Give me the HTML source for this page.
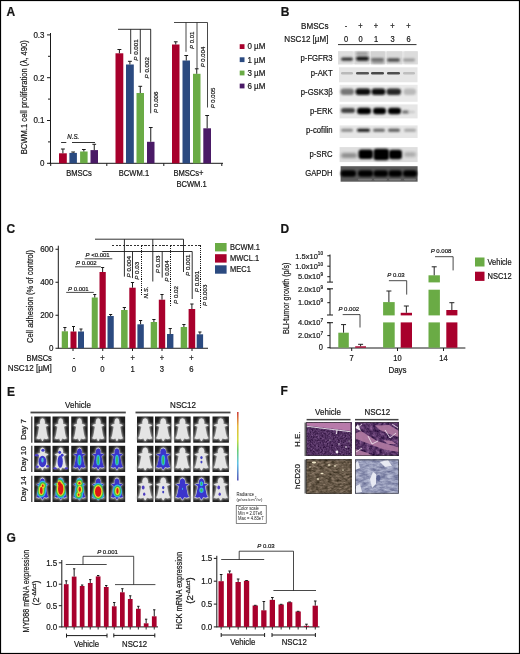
<!DOCTYPE html>
<html><head><meta charset="utf-8"><style>html,body{margin:0;padding:0;background:#fff;}svg{display:block;will-change:transform;font-family:"Liberation Sans",sans-serif;}text{fill:#161616;stroke:#161616;stroke-width:0.2px;}</style></head>
<body><svg width="520" height="654" viewBox="0 0 520 654" font-family="Liberation Sans, sans-serif"><defs><filter id="nHEV" filterUnits="userSpaceOnUse" x="306.2" y="422.4" width="45" height="33.5" color-interpolation-filters="sRGB"><feTurbulence type="fractalNoise" baseFrequency="0.6" numOctaves="3" seed="4"/><feColorMatrix type="matrix" values="0.45 0 0 0 0.095  0.4 0 0 0 -0.010  0.45 0 0 0 0.155  0 0 0 0 1"/></filter><filter id="nHEN" filterUnits="userSpaceOnUse" x="355.1" y="422.4" width="43.9" height="33.5" color-interpolation-filters="sRGB"><feTurbulence type="fractalNoise" baseFrequency="0.3" numOctaves="3" seed="9"/><feColorMatrix type="matrix" values="0.6 0 0 0 0.040  0.5 0 0 0 -0.050  0.55 0 0 0 0.125  0 0 0 0 1"/></filter><filter id="nCDV" filterUnits="userSpaceOnUse" x="306.2" y="459.6" width="45" height="33.9" color-interpolation-filters="sRGB"><feTurbulence type="fractalNoise" baseFrequency="0.25 0.5" numOctaves="3" seed="5"/><feColorMatrix type="matrix" values="0.55 0 0 0 0.125  0.5 0 0 0 0.095  0.48 0 0 0 0.040  0 0 0 0 1"/></filter><filter id="nCDN" filterUnits="userSpaceOnUse" x="355.1" y="459.6" width="43.9" height="33.9" color-interpolation-filters="sRGB"><feTurbulence type="fractalNoise" baseFrequency="0.15 0.35" numOctaves="3" seed="11"/><feColorMatrix type="matrix" values="0.55 0 0 0 0.305  0.55 0 0 0 0.325  0.45 0 0 0 0.495  0 0 0 0 1"/></filter>
<filter id="bl08" x="-50%" y="-50%" width="200%" height="200%"><feGaussianBlur stdDeviation="0.8"/></filter>
<filter id="blb" x="-50%" y="-80%" width="200%" height="260%"><feGaussianBlur stdDeviation="1.3 1.0"/></filter>
<filter id="bl05" x="-50%" y="-50%" width="200%" height="200%"><feGaussianBlur stdDeviation="0.5"/></filter>
<filter id="bl15" x="-50%" y="-50%" width="200%" height="200%"><feGaussianBlur stdDeviation="1.5"/></filter>
<filter id="bl2" x="-20%" y="-20%" width="140%" height="140%"><feGaussianBlur stdDeviation="0.6"/></filter>
<radialGradient id="hr"><stop offset="0" stop-color="#e00000"/><stop offset="0.45" stop-color="#e02000"/><stop offset="0.62" stop-color="#e8d000"/><stop offset="0.78" stop-color="#40c040"/><stop offset="0.9" stop-color="#30b0e0"/><stop offset="1" stop-color="#3a3acc"/></radialGradient>
<radialGradient id="hg"><stop offset="0" stop-color="#a0d040"/><stop offset="0.4" stop-color="#40c080"/><stop offset="0.75" stop-color="#30a0e0"/><stop offset="1" stop-color="#3434c8"/></radialGradient>
<linearGradient id="cbar" x1="0" y1="0" x2="0" y2="1"><stop offset="0" stop-color="#c00000"/><stop offset="0.2" stop-color="#e0a000"/><stop offset="0.4" stop-color="#c0d000"/><stop offset="0.55" stop-color="#40c040"/><stop offset="0.75" stop-color="#30b0e0"/><stop offset="1" stop-color="#2020a0"/></linearGradient>
<filter id="tex1"><feTurbulence type="fractalNoise" baseFrequency="0.9" numOctaves="2" seed="3"/><feColorMatrix values="0 0 0 0 0.29  0 0 0 0 0.18  0 0 0 0 0.38  0 0 0 1.6 -0.5"/><feComposite in2="SourceGraphic" operator="in"/></filter>
<pattern id="heV" width="45" height="34" patternUnits="userSpaceOnUse" x="306.2" y="422.4"><rect width="45" height="34" fill="#4e3266"/><rect width="45" height="6" fill="#b07aa0"/><path d="M0,6 L45,3" stroke="#e8e0f0" stroke-width="1"/></pattern>
<pattern id="heN" width="44" height="34" patternUnits="userSpaceOnUse" x="355.1" y="422.4"><rect width="44" height="34" fill="#5a3a70"/><path d="M0,4 L20,14 L44,8 L44,16 L22,24 L0,14Z" fill="#b8809e"/><path d="M0,24 L30,34 L0,34Z" fill="#b0789a"/></pattern>
<pattern id="cdV" width="45" height="34" patternUnits="userSpaceOnUse" x="306.2" y="459.6"><rect width="45" height="34" fill="#7a6a52"/></pattern>
<pattern id="cdN" width="44" height="34" patternUnits="userSpaceOnUse" x="355.1" y="459.6"><rect width="44" height="34" fill="#a8aecc"/></pattern>
</defs><rect width="520" height="654" fill="#fff"/><text x="6.5" y="15.9" font-size="12" text-anchor="start" font-weight="bold" font-style="normal" fill="#000">A</text>
<line x1="50.5" y1="33" x2="50.5" y2="163.8" stroke="#1a1a1a" stroke-width="1.0"/>
<line x1="49.5" y1="163.3" x2="223" y2="163.3" stroke="#1a1a1a" stroke-width="1.0"/>
<line x1="47" y1="163.3" x2="50.5" y2="163.3" stroke="#1a1a1a" stroke-width="1.0"/>
<text x="44.5" y="166.20000000000002" font-size="8.7" text-anchor="end" font-weight="normal" font-style="normal" fill="#333" transform="translate(44.5 0) scale(0.92 1) translate(-44.5 0)">0</text>
<line x1="47" y1="120.5" x2="50.5" y2="120.5" stroke="#1a1a1a" stroke-width="1.0"/>
<text x="44.5" y="123.4" font-size="8.7" text-anchor="end" font-weight="normal" font-style="normal" fill="#333" transform="translate(44.5 0) scale(0.92 1) translate(-44.5 0)">0.1</text>
<line x1="47" y1="77.7" x2="50.5" y2="77.7" stroke="#1a1a1a" stroke-width="1.0"/>
<text x="44.5" y="80.60000000000001" font-size="8.7" text-anchor="end" font-weight="normal" font-style="normal" fill="#333" transform="translate(44.5 0) scale(0.92 1) translate(-44.5 0)">0.2</text>
<line x1="47" y1="34.900000000000006" x2="50.5" y2="34.900000000000006" stroke="#1a1a1a" stroke-width="1.0"/>
<text x="44.5" y="37.800000000000004" font-size="8.7" text-anchor="end" font-weight="normal" font-style="normal" fill="#333" transform="translate(44.5 0) scale(0.92 1) translate(-44.5 0)">0.3</text>
<line x1="48" y1="141.9" x2="50.5" y2="141.9" stroke="#1a1a1a" stroke-width="1.0"/>
<line x1="48" y1="99.10000000000001" x2="50.5" y2="99.10000000000001" stroke="#1a1a1a" stroke-width="1.0"/>
<line x1="48" y1="56.30000000000001" x2="50.5" y2="56.30000000000001" stroke="#1a1a1a" stroke-width="1.0"/>
<line x1="50.7" y1="163.3" x2="50.7" y2="166" stroke="#1a1a1a" stroke-width="1.0"/>
<line x1="106.8" y1="163.3" x2="106.8" y2="166" stroke="#1a1a1a" stroke-width="1.0"/>
<line x1="163.8" y1="163.3" x2="163.8" y2="166" stroke="#1a1a1a" stroke-width="1.0"/>
<line x1="221.8" y1="163.3" x2="221.8" y2="166" stroke="#1a1a1a" stroke-width="1.0"/>
<text x="27" y="97.3" font-size="9" text-anchor="middle" font-weight="normal" font-style="normal" fill="#222" transform="rotate(-90 27 97.3)" textLength="114" lengthAdjust="spacingAndGlyphs">BCWM.1 cell proliferation (λ, 490)</text>
<rect x="59" y="153.3" width="7.799999999999997" height="10.0" fill="#a8002c"/>
<line x1="62.9" y1="149" x2="62.9" y2="153.3" stroke="#1a1a1a" stroke-width="1.0"/>
<line x1="60.95" y1="149" x2="64.85" y2="149" stroke="#1a1a1a" stroke-width="1.0"/>
<rect x="69.4" y="152.9" width="7.5" height="10.400000000000006" fill="#2b4a80"/>
<line x1="73.15" y1="152" x2="73.15" y2="152.9" stroke="#1a1a1a" stroke-width="1.0"/>
<line x1="71.275" y1="152" x2="75.025" y2="152" stroke="#1a1a1a" stroke-width="1.0"/>
<rect x="80.1" y="151.5" width="7.5" height="11.800000000000011" fill="#6aab45"/>
<line x1="83.85" y1="149.5" x2="83.85" y2="151.5" stroke="#1a1a1a" stroke-width="1.0"/>
<line x1="81.975" y1="149.5" x2="85.725" y2="149.5" stroke="#1a1a1a" stroke-width="1.0"/>
<rect x="90.5" y="150.1" width="7.5" height="13.200000000000017" fill="#4a1a66"/>
<line x1="94.25" y1="144.3" x2="94.25" y2="150.1" stroke="#1a1a1a" stroke-width="1.0"/>
<line x1="92.375" y1="144.3" x2="96.125" y2="144.3" stroke="#1a1a1a" stroke-width="1.0"/>
<rect x="115.5" y="53.3" width="7.799999999999997" height="110.00000000000001" fill="#a8002c"/>
<line x1="119.4" y1="49.5" x2="119.4" y2="53.3" stroke="#1a1a1a" stroke-width="1.0"/>
<line x1="117.45" y1="49.5" x2="121.35000000000001" y2="49.5" stroke="#1a1a1a" stroke-width="1.0"/>
<rect x="126" y="64.5" width="7.800000000000011" height="98.80000000000001" fill="#2b4a80"/>
<line x1="129.9" y1="61.3" x2="129.9" y2="64.5" stroke="#1a1a1a" stroke-width="1.0"/>
<line x1="127.95" y1="61.3" x2="131.85000000000002" y2="61.3" stroke="#1a1a1a" stroke-width="1.0"/>
<rect x="136.5" y="93" width="7.5" height="70.30000000000001" fill="#6aab45"/>
<line x1="140.25" y1="86.3" x2="140.25" y2="93" stroke="#1a1a1a" stroke-width="1.0"/>
<line x1="138.375" y1="86.3" x2="142.125" y2="86.3" stroke="#1a1a1a" stroke-width="1.0"/>
<rect x="147" y="141.8" width="7.5" height="21.5" fill="#4a1a66"/>
<line x1="150.75" y1="127.5" x2="150.75" y2="141.8" stroke="#1a1a1a" stroke-width="1.0"/>
<line x1="148.875" y1="127.5" x2="152.625" y2="127.5" stroke="#1a1a1a" stroke-width="1.0"/>
<rect x="172" y="44.5" width="7.5" height="118.80000000000001" fill="#a8002c"/>
<line x1="175.75" y1="41.8" x2="175.75" y2="44.5" stroke="#1a1a1a" stroke-width="1.0"/>
<line x1="173.875" y1="41.8" x2="177.625" y2="41.8" stroke="#1a1a1a" stroke-width="1.0"/>
<rect x="182.5" y="60.5" width="7.5" height="102.80000000000001" fill="#2b4a80"/>
<line x1="186.25" y1="55.5" x2="186.25" y2="60.5" stroke="#1a1a1a" stroke-width="1.0"/>
<line x1="184.375" y1="55.5" x2="188.125" y2="55.5" stroke="#1a1a1a" stroke-width="1.0"/>
<rect x="193" y="73.8" width="7.5" height="89.50000000000001" fill="#6aab45"/>
<line x1="196.75" y1="68.8" x2="196.75" y2="73.8" stroke="#1a1a1a" stroke-width="1.0"/>
<line x1="194.875" y1="68.8" x2="198.625" y2="68.8" stroke="#1a1a1a" stroke-width="1.0"/>
<rect x="203.3" y="128.3" width="7.699999999999989" height="35.0" fill="#4a1a66"/>
<line x1="207.15" y1="115.5" x2="207.15" y2="128.3" stroke="#1a1a1a" stroke-width="1.0"/>
<line x1="205.22500000000002" y1="115.5" x2="209.075" y2="115.5" stroke="#1a1a1a" stroke-width="1.0"/>
<line x1="61.1" y1="142.5" x2="66.3" y2="142.5" stroke="#333" stroke-width="1.0"/>
<line x1="72" y1="142.5" x2="95" y2="142.5" stroke="#333" stroke-width="1.0"/>
<text x="67.3" y="139" font-size="6.74" text-anchor="start" font-weight="normal" font-style="italic" fill="#333" transform="translate(67.3 0) scale(0.92 1) translate(-67.3 0)">N.S.</text>
<line x1="118" y1="29.3" x2="150.9" y2="29.3" stroke="#1a1a1a" stroke-width="0.9"/>
<line x1="130.7" y1="29.3" x2="130.7" y2="54" stroke="#1a1a1a" stroke-width="0.9"/>
<line x1="140.3" y1="29.3" x2="140.3" y2="72.8" stroke="#1a1a1a" stroke-width="0.9"/>
<line x1="150.7" y1="29.3" x2="150.7" y2="113.3" stroke="#1a1a1a" stroke-width="0.9"/>
<text x="138" y="50" font-size="6.2" text-anchor="middle" fill="#222" transform="rotate(-90 138 50)"><tspan font-style="italic">P</tspan> 0.001</text>
<text x="148.7" y="67.8" font-size="6.2" text-anchor="middle" fill="#222" transform="rotate(-90 148.7 67.8)"><tspan font-style="italic">P</tspan> 0.002</text>
<text x="157.9" y="102.2" font-size="6.2" text-anchor="middle" fill="#222" transform="rotate(-90 157.9 102.2)"><tspan font-style="italic">P</tspan> 0.006</text>
<line x1="174" y1="22.5" x2="207.5" y2="22.5" stroke="#1a1a1a" stroke-width="0.8"/>
<line x1="186" y1="22.5" x2="186" y2="51.8" stroke="#1a1a1a" stroke-width="0.8"/>
<line x1="197" y1="22.5" x2="197" y2="68.8" stroke="#1a1a1a" stroke-width="0.8"/>
<line x1="207.5" y1="22.5" x2="207.5" y2="107.5" stroke="#1a1a1a" stroke-width="0.8"/>
<text x="194.2" y="40.3" font-size="6" text-anchor="middle" fill="#222" transform="rotate(-90 194.2 40.3)"><tspan font-style="italic">P</tspan> 0.01</text>
<text x="204.7" y="57" font-size="6" text-anchor="middle" fill="#222" transform="rotate(-90 204.7 57)"><tspan font-style="italic">P</tspan> 0.004</text>
<text x="214.7" y="98" font-size="6" text-anchor="middle" fill="#222" transform="rotate(-90 214.7 98)"><tspan font-style="italic">P</tspan> 0.005</text>
<text x="79" y="176.5" font-size="8.26" text-anchor="middle" font-weight="normal" font-style="normal" fill="#333" transform="translate(79 0) scale(0.92 1) translate(-79 0)">BMSCs</text>
<text x="134" y="176.5" font-size="8.26" text-anchor="middle" font-weight="normal" font-style="normal" fill="#333" transform="translate(134 0) scale(0.92 1) translate(-134 0)">BCWM.1</text>
<text x="188.5" y="176.5" font-size="8.26" text-anchor="middle" font-weight="normal" font-style="normal" fill="#333" transform="translate(188.5 0) scale(0.92 1) translate(-188.5 0)">BMSCs+</text>
<text x="191.6" y="186.6" font-size="8.26" text-anchor="middle" font-weight="normal" font-style="normal" fill="#333" transform="translate(191.6 0) scale(0.92 1) translate(-191.6 0)">BCWM.1</text>
<rect x="239.7" y="44.2" width="4.8" height="4.8" fill="#a8002c"/>
<text x="247.4" y="49.5" font-size="8.7" text-anchor="start" font-weight="normal" font-style="normal" fill="#333" transform="translate(247.4 0) scale(0.92 1) translate(-247.4 0)">0 µM</text>
<rect x="239.7" y="57.300000000000004" width="4.8" height="4.8" fill="#2b4a80"/>
<text x="247.4" y="62.6" font-size="8.7" text-anchor="start" font-weight="normal" font-style="normal" fill="#333" transform="translate(247.4 0) scale(0.92 1) translate(-247.4 0)">1 µM</text>
<rect x="239.7" y="70.6" width="4.8" height="4.8" fill="#6aab45"/>
<text x="247.4" y="75.9" font-size="8.7" text-anchor="start" font-weight="normal" font-style="normal" fill="#333" transform="translate(247.4 0) scale(0.92 1) translate(-247.4 0)">3 µM</text>
<rect x="239.7" y="83.6" width="4.8" height="4.8" fill="#4a1a66"/>
<text x="247.4" y="88.9" font-size="8.7" text-anchor="start" font-weight="normal" font-style="normal" fill="#333" transform="translate(247.4 0) scale(0.92 1) translate(-247.4 0)">6 µM</text>
<text x="280.8" y="16" font-size="12" text-anchor="start" font-weight="bold" font-style="normal" fill="#000">B</text>
<text x="328.5" y="28.8" font-size="8.8" text-anchor="end" font-weight="normal" font-style="normal" fill="#222" transform="translate(328.5 0) scale(0.92 1) translate(-328.5 0)">BMSCs</text>
<text x="328.5" y="42.2" font-size="8.8" text-anchor="end" font-weight="normal" font-style="normal" fill="#222" transform="translate(328.5 0) scale(0.92 1) translate(-328.5 0)">NSC12 [µM]</text>
<text x="346" y="28.8" font-size="8.15" text-anchor="middle" font-weight="normal" font-style="normal" fill="#222" transform="translate(346 0) scale(0.92 1) translate(-346 0)">-</text>
<text x="360.5" y="28.8" font-size="8.15" text-anchor="middle" font-weight="normal" font-style="normal" fill="#222" transform="translate(360.5 0) scale(0.92 1) translate(-360.5 0)">+</text>
<text x="376" y="28.8" font-size="8.15" text-anchor="middle" font-weight="normal" font-style="normal" fill="#222" transform="translate(376 0) scale(0.92 1) translate(-376 0)">+</text>
<text x="392.5" y="28.8" font-size="8.15" text-anchor="middle" font-weight="normal" font-style="normal" fill="#222" transform="translate(392.5 0) scale(0.92 1) translate(-392.5 0)">+</text>
<text x="408.5" y="28.8" font-size="8.15" text-anchor="middle" font-weight="normal" font-style="normal" fill="#222" transform="translate(408.5 0) scale(0.92 1) translate(-408.5 0)">+</text>
<text x="346" y="42.2" font-size="8.15" text-anchor="middle" font-weight="normal" font-style="normal" fill="#222" transform="translate(346 0) scale(0.92 1) translate(-346 0)">0</text>
<text x="360.5" y="42.2" font-size="8.15" text-anchor="middle" font-weight="normal" font-style="normal" fill="#222" transform="translate(360.5 0) scale(0.92 1) translate(-360.5 0)">0</text>
<text x="376" y="42.2" font-size="8.15" text-anchor="middle" font-weight="normal" font-style="normal" fill="#222" transform="translate(376 0) scale(0.92 1) translate(-376 0)">1</text>
<text x="392.5" y="42.2" font-size="8.15" text-anchor="middle" font-weight="normal" font-style="normal" fill="#222" transform="translate(392.5 0) scale(0.92 1) translate(-392.5 0)">3</text>
<text x="408.5" y="42.2" font-size="8.15" text-anchor="middle" font-weight="normal" font-style="normal" fill="#222" transform="translate(408.5 0) scale(0.92 1) translate(-408.5 0)">6</text>
<line x1="338" y1="44.6" x2="416.5" y2="44.6" stroke="#1a1a1a" stroke-width="0.9"/>
<rect x="338" y="51.3" width="80" height="13" fill="#e4e4e4"/>
<rect x="338" y="51.3" width="14.600000000000023" height="13" fill="rgb(222,222,222)" filter="url(#bl05)"/>
<rect x="354.6" y="51.3" width="14.699999999999989" height="13" fill="rgb(216,216,216)" filter="url(#bl05)"/>
<rect x="371" y="51.3" width="13.800000000000011" height="13" fill="rgb(211,211,211)" filter="url(#bl05)"/>
<rect x="387" y="51.3" width="15" height="13" fill="rgb(218,218,218)" filter="url(#bl05)"/>
<rect x="404.4" y="51.3" width="13.100000000000023" height="13" fill="rgb(220,220,220)" filter="url(#bl05)"/>
<rect x="356" y="52.0" width="12" height="3" rx="1.5" fill="rgb(152,152,152)" filter="url(#blb)"/>
<rect x="372" y="60.5" width="12" height="3" rx="1.5" fill="rgb(163,163,163)" filter="url(#blb)"/>
<rect x="341" y="57.4" width="12" height="3.4" rx="1.7" fill="rgb(49,49,49)" filter="url(#blb)"/>
<rect x="356" y="56.4" width="13" height="4.4" rx="2.2" fill="rgb(22,22,22)" filter="url(#blb)"/>
<rect x="371" y="58.099999999999994" width="13" height="3.4" rx="1.7" fill="rgb(106,106,106)" filter="url(#blb)"/>
<rect x="387" y="58.3" width="13" height="3.4" rx="1.7" fill="rgb(76,76,76)" filter="url(#blb)"/>
<rect x="403" y="58.6" width="12" height="2.8" rx="1.4" fill="rgb(152,152,152)" filter="url(#blb)"/>
<rect x="339" y="67.3" width="78.5" height="15" fill="#e6e6e6"/>
<rect x="341" y="72.0" width="12" height="2.6" rx="1.3" fill="rgb(185,185,185)" filter="url(#bl05)"/>
<rect x="356" y="72.0" width="13" height="2.6" rx="1.3" fill="rgb(85,85,85)" filter="url(#bl05)"/>
<rect x="371" y="72.0" width="13" height="2.6" rx="1.3" fill="rgb(74,74,74)" filter="url(#bl05)"/>
<rect x="387" y="72.0" width="13" height="2.6" rx="1.3" fill="rgb(80,80,80)" filter="url(#bl05)"/>
<rect x="403" y="72.0" width="12" height="2.6" rx="1.3" fill="rgb(190,190,190)" filter="url(#bl05)"/>
<rect x="339.6" y="84.8" width="78" height="17" fill="#eaeaea"/>
<rect x="340.5" y="88.55" width="13.5" height="6.5" rx="3" fill="rgb(118,118,118)" filter="url(#blb)"/>
<rect x="355.5" y="88.55" width="15.0" height="6.5" rx="3" fill="rgb(10,10,10)" filter="url(#blb)"/>
<rect x="371.5" y="88.55" width="14.0" height="6.5" rx="3" fill="rgb(10,10,10)" filter="url(#blb)"/>
<rect x="386.5" y="88.55" width="14.5" height="6.5" rx="3" fill="rgb(38,38,38)" filter="url(#blb)"/>
<rect x="403.5" y="88.55" width="12.5" height="6.5" rx="3" fill="rgb(186,186,186)" filter="url(#blb)"/>
<rect x="339.6" y="104.4" width="78" height="14" fill="#e6e6e6"/>
<rect x="341" y="108.1" width="14" height="5" rx="2.5" fill="rgb(67,67,67)" filter="url(#blb)"/>
<rect x="357" y="107.75" width="14" height="6.5" rx="3" fill="rgb(4,4,4)" filter="url(#blb)"/>
<rect x="373" y="107.75" width="13" height="6.5" rx="3" fill="rgb(4,4,4)" filter="url(#blb)"/>
<rect x="388" y="107.75" width="13" height="6.5" rx="3" fill="rgb(4,4,4)" filter="url(#blb)"/>
<rect x="402" y="110.5" width="7" height="3" rx="1.5" fill="rgb(106,106,106)" filter="url(#blb)"/>
<rect x="408" y="111.0" width="7" height="2" rx="1.0" fill="rgb(197,197,197)" filter="url(#blb)"/>
<rect x="339.6" y="125.4" width="78" height="12.6" fill="#e6e6e6"/>
<rect x="341" y="128.8" width="12" height="3" rx="1.5" fill="rgb(136,136,136)" filter="url(#blb)"/>
<rect x="357" y="128.8" width="13" height="3" rx="1.5" fill="rgb(22,22,22)" filter="url(#blb)"/>
<rect x="373" y="128.8" width="12" height="3" rx="1.5" fill="rgb(99,99,99)" filter="url(#blb)"/>
<rect x="388" y="128.8" width="12" height="3" rx="1.5" fill="rgb(86,86,86)" filter="url(#blb)"/>
<rect x="404" y="128.8" width="12" height="3" rx="1.5" fill="rgb(163,163,163)" filter="url(#blb)"/>
<rect x="339.6" y="147.1" width="78" height="15" fill="#dedede"/>
<rect x="341" y="153.1" width="16" height="5" rx="2.5" fill="rgb(140,140,140)" filter="url(#bl15)"/>
<rect x="358.5" y="149.55" width="14.5" height="9.5" rx="3" fill="rgb(4,4,4)" filter="url(#blb)"/>
<rect x="373.5" y="148.85" width="15.5" height="11.5" rx="3" fill="rgb(4,4,4)" filter="url(#blb)"/>
<rect x="389" y="149.75" width="13" height="9.5" rx="3" fill="rgb(4,4,4)" filter="url(#blb)"/>
<rect x="404" y="152.25" width="12" height="4.5" rx="2.25" fill="rgb(168,168,168)" filter="url(#bl15)"/>
<rect x="340.6" y="166.2" width="77" height="15.5" fill="#5a5a5a"/>
<rect x="340.6" y="170.15" width="15.399999999999977" height="6.5" rx="3" fill="rgb(4,4,4)" filter="url(#blb)"/>
<rect x="358" y="170.15" width="15" height="6.5" rx="3" fill="rgb(4,4,4)" filter="url(#blb)"/>
<rect x="373.5" y="170.15" width="14.5" height="6.5" rx="3" fill="rgb(4,4,4)" filter="url(#blb)"/>
<rect x="388.5" y="170.15" width="13.5" height="6.5" rx="3" fill="rgb(4,4,4)" filter="url(#blb)"/>
<rect x="403" y="170.15" width="14" height="6.5" rx="3" fill="rgb(4,4,4)" filter="url(#blb)"/>
<rect x="358" y="178.79999999999998" width="14" height="1.6" rx="0.8" fill="rgb(118,118,118)" filter="url(#bl05)"/>
<rect x="374" y="178.79999999999998" width="13" height="1.6" rx="0.8" fill="rgb(118,118,118)" filter="url(#bl05)"/>
<rect x="389" y="178.79999999999998" width="12" height="1.6" rx="0.8" fill="rgb(118,118,118)" filter="url(#bl05)"/>
<rect x="404" y="178.79999999999998" width="12" height="1.6" rx="0.8" fill="rgb(118,118,118)" filter="url(#bl05)"/>
<text x="332.6" y="61.400000000000006" font-size="8.37" text-anchor="end" font-weight="normal" font-style="normal" fill="#222" transform="translate(332.6 0) scale(0.92 1) translate(-332.6 0)">p-FGFR3</text>
<text x="332.6" y="75.8" font-size="8.37" text-anchor="end" font-weight="normal" font-style="normal" fill="#222" transform="translate(332.6 0) scale(0.92 1) translate(-332.6 0)">p-AKT</text>
<text x="332.6" y="95.0" font-size="8.37" text-anchor="end" font-weight="normal" font-style="normal" fill="#222" transform="translate(332.6 0) scale(0.92 1) translate(-332.6 0)">p-GSK3β</text>
<text x="332.6" y="114.2" font-size="8.37" text-anchor="end" font-weight="normal" font-style="normal" fill="#222" transform="translate(332.6 0) scale(0.92 1) translate(-332.6 0)">p-ERK</text>
<text x="332.6" y="132.7" font-size="8.37" text-anchor="end" font-weight="normal" font-style="normal" fill="#222" transform="translate(332.6 0) scale(0.92 1) translate(-332.6 0)">p-cofilin</text>
<text x="332.6" y="157.5" font-size="8.37" text-anchor="end" font-weight="normal" font-style="normal" fill="#222" transform="translate(332.6 0) scale(0.92 1) translate(-332.6 0)">p-SRC</text>
<text x="332.6" y="176.1" font-size="8.37" text-anchor="end" font-weight="normal" font-style="normal" fill="#222" transform="translate(332.6 0) scale(0.92 1) translate(-332.6 0)">GAPDH</text>
<text x="6.5" y="233" font-size="12" text-anchor="start" font-weight="bold" font-style="normal" fill="#000">C</text>
<line x1="58.3" y1="245.7" x2="58.3" y2="348.7" stroke="#1a1a1a" stroke-width="1.0"/>
<line x1="58.3" y1="348.25" x2="208" y2="348.25" stroke="#1a1a1a" stroke-width="1.0"/>
<line x1="55.5" y1="348.25" x2="58.3" y2="348.25" stroke="#1a1a1a" stroke-width="1.0"/>
<text x="53.5" y="351.15" font-size="8.7" text-anchor="end" font-weight="normal" font-style="normal" fill="#333" transform="translate(53.5 0) scale(0.92 1) translate(-53.5 0)">0</text>
<line x1="55.5" y1="315.25" x2="58.3" y2="315.25" stroke="#1a1a1a" stroke-width="1.0"/>
<text x="53.5" y="318.15" font-size="8.7" text-anchor="end" font-weight="normal" font-style="normal" fill="#333" transform="translate(53.5 0) scale(0.92 1) translate(-53.5 0)">200</text>
<line x1="55.5" y1="282.25" x2="58.3" y2="282.25" stroke="#1a1a1a" stroke-width="1.0"/>
<text x="53.5" y="285.15" font-size="8.7" text-anchor="end" font-weight="normal" font-style="normal" fill="#333" transform="translate(53.5 0) scale(0.92 1) translate(-53.5 0)">400</text>
<line x1="55.5" y1="249.25" x2="58.3" y2="249.25" stroke="#1a1a1a" stroke-width="1.0"/>
<text x="53.5" y="252.15" font-size="8.7" text-anchor="end" font-weight="normal" font-style="normal" fill="#333" transform="translate(53.5 0) scale(0.92 1) translate(-53.5 0)">600</text>
<line x1="73" y1="348.25" x2="73" y2="351" stroke="#1a1a1a" stroke-width="1.0"/>
<line x1="102.75" y1="348.25" x2="102.75" y2="351" stroke="#1a1a1a" stroke-width="1.0"/>
<line x1="132.5" y1="348.25" x2="132.5" y2="351" stroke="#1a1a1a" stroke-width="1.0"/>
<line x1="162" y1="348.25" x2="162" y2="351" stroke="#1a1a1a" stroke-width="1.0"/>
<line x1="192" y1="348.25" x2="192" y2="351" stroke="#1a1a1a" stroke-width="1.0"/>
<text x="32.6" y="296.5" font-size="8.6" text-anchor="middle" font-weight="normal" font-style="normal" fill="#222" transform="rotate(-90 32.6 296.5)" textLength="93" lengthAdjust="spacingAndGlyphs">Cell adhesion (% of control)</text>
<rect x="61.75" y="331.3" width="6.25" height="16.94999999999999" fill="#6aab45"/>
<line x1="64.875" y1="327.5" x2="64.875" y2="331.3" stroke="#1a1a1a" stroke-width="1.0"/>
<line x1="63.3125" y1="327.5" x2="66.4375" y2="327.5" stroke="#1a1a1a" stroke-width="1.0"/>
<rect x="70.5" y="331.5" width="6.0" height="16.75" fill="#a8002c"/>
<line x1="73.5" y1="326.5" x2="73.5" y2="331.5" stroke="#1a1a1a" stroke-width="1.0"/>
<line x1="72.0" y1="326.5" x2="75.0" y2="326.5" stroke="#1a1a1a" stroke-width="1.0"/>
<rect x="78" y="331.5" width="6" height="16.75" fill="#2b4a80"/>
<line x1="81.0" y1="329" x2="81.0" y2="331.5" stroke="#1a1a1a" stroke-width="1.0"/>
<line x1="79.5" y1="329" x2="82.5" y2="329" stroke="#1a1a1a" stroke-width="1.0"/>
<rect x="91.75" y="297.5" width="6.0" height="50.75" fill="#6aab45"/>
<line x1="94.75" y1="294.5" x2="94.75" y2="297.5" stroke="#1a1a1a" stroke-width="1.0"/>
<line x1="93.25" y1="294.5" x2="96.25" y2="294.5" stroke="#1a1a1a" stroke-width="1.0"/>
<rect x="99.5" y="272" width="6.25" height="76.25" fill="#a8002c"/>
<line x1="102.625" y1="267.5" x2="102.625" y2="272" stroke="#1a1a1a" stroke-width="1.0"/>
<line x1="101.0625" y1="267.5" x2="104.1875" y2="267.5" stroke="#1a1a1a" stroke-width="1.0"/>
<rect x="107.5" y="316" width="6.25" height="32.25" fill="#2b4a80"/>
<line x1="110.625" y1="314.5" x2="110.625" y2="316" stroke="#1a1a1a" stroke-width="1.0"/>
<line x1="109.0625" y1="314.5" x2="112.1875" y2="314.5" stroke="#1a1a1a" stroke-width="1.0"/>
<rect x="121.1" y="310" width="6.5" height="38.25" fill="#6aab45"/>
<line x1="124.35" y1="307.5" x2="124.35" y2="310" stroke="#1a1a1a" stroke-width="1.0"/>
<line x1="122.725" y1="307.5" x2="125.975" y2="307.5" stroke="#1a1a1a" stroke-width="1.0"/>
<rect x="129.3" y="287.7" width="6.399999999999977" height="60.55000000000001" fill="#a8002c"/>
<line x1="132.5" y1="282.5" x2="132.5" y2="287.7" stroke="#1a1a1a" stroke-width="1.0"/>
<line x1="130.9" y1="282.5" x2="134.1" y2="282.5" stroke="#1a1a1a" stroke-width="1.0"/>
<rect x="137.4" y="324.3" width="6.400000000000006" height="23.94999999999999" fill="#2b4a80"/>
<line x1="140.60000000000002" y1="320.5" x2="140.60000000000002" y2="324.3" stroke="#1a1a1a" stroke-width="1.0"/>
<line x1="139.00000000000003" y1="320.5" x2="142.20000000000002" y2="320.5" stroke="#1a1a1a" stroke-width="1.0"/>
<rect x="150.7" y="322" width="6.400000000000006" height="26.25" fill="#6aab45"/>
<line x1="153.89999999999998" y1="319.5" x2="153.89999999999998" y2="322" stroke="#1a1a1a" stroke-width="1.0"/>
<line x1="152.29999999999998" y1="319.5" x2="155.49999999999997" y2="319.5" stroke="#1a1a1a" stroke-width="1.0"/>
<rect x="158.8" y="299.7" width="6.399999999999977" height="48.55000000000001" fill="#a8002c"/>
<line x1="162.0" y1="294.5" x2="162.0" y2="299.7" stroke="#1a1a1a" stroke-width="1.0"/>
<line x1="160.4" y1="294.5" x2="163.6" y2="294.5" stroke="#1a1a1a" stroke-width="1.0"/>
<rect x="167" y="334" width="6.400000000000006" height="14.25" fill="#2b4a80"/>
<line x1="170.2" y1="328.5" x2="170.2" y2="334" stroke="#1a1a1a" stroke-width="1.0"/>
<line x1="168.6" y1="328.5" x2="171.79999999999998" y2="328.5" stroke="#1a1a1a" stroke-width="1.0"/>
<rect x="180.7" y="327" width="6.400000000000006" height="21.25" fill="#6aab45"/>
<line x1="183.89999999999998" y1="324.5" x2="183.89999999999998" y2="327" stroke="#1a1a1a" stroke-width="1.0"/>
<line x1="182.29999999999998" y1="324.5" x2="185.49999999999997" y2="324.5" stroke="#1a1a1a" stroke-width="1.0"/>
<rect x="188.6" y="309" width="6.599999999999994" height="39.25" fill="#a8002c"/>
<line x1="191.89999999999998" y1="304" x2="191.89999999999998" y2="309" stroke="#1a1a1a" stroke-width="1.0"/>
<line x1="190.24999999999997" y1="304" x2="193.54999999999998" y2="304" stroke="#1a1a1a" stroke-width="1.0"/>
<rect x="196.7" y="334.3" width="6.400000000000006" height="13.949999999999989" fill="#2b4a80"/>
<line x1="199.89999999999998" y1="332" x2="199.89999999999998" y2="334.3" stroke="#1a1a1a" stroke-width="1.0"/>
<line x1="198.29999999999998" y1="332" x2="201.49999999999997" y2="332" stroke="#1a1a1a" stroke-width="1.0"/>
<line x1="95" y1="239.2" x2="183.5" y2="239.2" stroke="#1a1a1a" stroke-width="0.9"/>
<line x1="112" y1="245.4" x2="200.7" y2="245.4" stroke="#1a1a1a" stroke-width="0.9" stroke-dasharray="2.2,1.4" shape-rendering="crispEdges"/>
<line x1="102.3" y1="251.5" x2="192.2" y2="251.5" stroke="#1a1a1a" stroke-width="0.9"/>
<line x1="124.4" y1="239.2" x2="124.4" y2="276.6" stroke="#1a1a1a" stroke-width="0.9"/>
<line x1="132.5" y1="251.5" x2="132.5" y2="278.1" stroke="#1a1a1a" stroke-width="0.9"/>
<line x1="141" y1="245.4" x2="141" y2="295.7" stroke="#1a1a1a" stroke-width="1.0" stroke-dasharray="1.1,1.1" shape-rendering="crispEdges"/>
<line x1="152.8" y1="239.2" x2="152.8" y2="281.5" stroke="#1a1a1a" stroke-width="0.9"/>
<line x1="162.2" y1="251.5" x2="162.2" y2="277.6" stroke="#1a1a1a" stroke-width="0.9"/>
<line x1="170.4" y1="245.4" x2="170.4" y2="305.7" stroke="#1a1a1a" stroke-width="1.0" stroke-dasharray="1.1,1.1" shape-rendering="crispEdges"/>
<line x1="183.5" y1="239.2" x2="183.5" y2="272" stroke="#1a1a1a" stroke-width="0.9"/>
<line x1="192.2" y1="251.5" x2="192.2" y2="299" stroke="#1a1a1a" stroke-width="0.9"/>
<line x1="200.7" y1="245.4" x2="200.7" y2="309.1" stroke="#1a1a1a" stroke-width="1.0" stroke-dasharray="1.1,1.1" shape-rendering="crispEdges"/>
<text x="130.6" y="266.8" font-size="6.2" text-anchor="middle" fill="#222" transform="rotate(-90 130.6 266.8)"><tspan font-style="italic">P</tspan> 0.004</text>
<text x="138.6" y="270.8" font-size="6.2" text-anchor="middle" fill="#222" transform="rotate(-90 138.6 270.8)"><tspan font-style="italic">P</tspan> 0.03</text>
<text x="148.4" y="292.5" font-size="6.2" text-anchor="middle" font-weight="normal" font-style="italic" fill="#222" transform="rotate(-90 148.4 292.5)">N.S.</text>
<text x="159.6" y="264.4" font-size="6.2" text-anchor="middle" fill="#222" transform="rotate(-90 159.6 264.4)"><tspan font-style="italic">P</tspan> 0.03</text>
<text x="169.2" y="271" font-size="6.2" text-anchor="middle" fill="#222" transform="rotate(-90 169.2 271)"><tspan font-style="italic">P</tspan> 0.004</text>
<text x="178.1" y="295" font-size="6.2" text-anchor="middle" fill="#222" transform="rotate(-90 178.1 295)"><tspan font-style="italic">P</tspan> 0.02</text>
<text x="190" y="265.3" font-size="6.2" text-anchor="middle" fill="#222" transform="rotate(-90 190 265.3)"><tspan font-style="italic">P</tspan> 0.001</text>
<text x="198.9" y="281.5" font-size="6.2" text-anchor="middle" fill="#222" transform="rotate(-90 198.9 281.5)"><tspan font-style="italic">P</tspan> 0.001</text>
<text x="207.1" y="295.3" font-size="6.2" text-anchor="middle" fill="#222" transform="rotate(-90 207.1 295.3)"><tspan font-style="italic">P</tspan> 0.003</text>
<line x1="84.6" y1="258.8" x2="112.3" y2="258.8" stroke="#1a1a1a" stroke-width="0.8"/>
<text x="85.5" y="257.3" font-size="6" text-anchor="start" fill="#222"><tspan font-style="italic">P</tspan> &lt;0.001</text>
<line x1="75" y1="266.8" x2="100.8" y2="266.8" stroke="#1a1a1a" stroke-width="0.8"/>
<text x="76" y="265.3" font-size="6" text-anchor="start" fill="#222"><tspan font-style="italic">P</tspan> 0.002</text>
<line x1="66.2" y1="292.4" x2="93.8" y2="292.4" stroke="#1a1a1a" stroke-width="0.8"/>
<text x="68" y="290.9" font-size="6" text-anchor="start" fill="#222"><tspan font-style="italic">P</tspan> 0.001</text>
<rect x="215" y="243" width="11.6" height="8.4" fill="#6aab45"/>
<text x="230" y="250.2" font-size="8.15" text-anchor="start" font-weight="normal" font-style="normal" fill="#222" transform="translate(230 0) scale(0.92 1) translate(-230 0)">BCWM.1</text>
<rect x="215" y="254.2" width="11.6" height="8.4" fill="#a8002c"/>
<text x="230" y="261.4" font-size="8.15" text-anchor="start" font-weight="normal" font-style="normal" fill="#222" transform="translate(230 0) scale(0.92 1) translate(-230 0)">MWCL.1</text>
<rect x="215" y="265.3" width="11.6" height="8.4" fill="#2b4a80"/>
<text x="230" y="272.5" font-size="8.15" text-anchor="start" font-weight="normal" font-style="normal" fill="#222" transform="translate(230 0) scale(0.92 1) translate(-230 0)">MEC1</text>
<text x="51.8" y="361.5" font-size="8.15" text-anchor="end" font-weight="normal" font-style="normal" fill="#222" transform="translate(51.8 0) scale(0.92 1) translate(-51.8 0)">BMSCs</text>
<text x="51.8" y="371.4" font-size="8.8" text-anchor="end" font-weight="normal" font-style="normal" fill="#222" transform="translate(51.8 0) scale(0.92 1) translate(-51.8 0)">NSC12 [µM]</text>
<text x="74" y="361.5" font-size="8.15" text-anchor="middle" font-weight="normal" font-style="normal" fill="#222" transform="translate(74 0) scale(0.92 1) translate(-74 0)">-</text>
<text x="74" y="371.6" font-size="8.37" text-anchor="middle" font-weight="normal" font-style="normal" fill="#222" transform="translate(74 0) scale(0.92 1) translate(-74 0)">0</text>
<text x="102.5" y="361.5" font-size="8.15" text-anchor="middle" font-weight="normal" font-style="normal" fill="#222" transform="translate(102.5 0) scale(0.92 1) translate(-102.5 0)">+</text>
<text x="102.5" y="371.6" font-size="8.37" text-anchor="middle" font-weight="normal" font-style="normal" fill="#222" transform="translate(102.5 0) scale(0.92 1) translate(-102.5 0)">0</text>
<text x="132.6" y="361.5" font-size="8.15" text-anchor="middle" font-weight="normal" font-style="normal" fill="#222" transform="translate(132.6 0) scale(0.92 1) translate(-132.6 0)">+</text>
<text x="132.6" y="371.6" font-size="8.37" text-anchor="middle" font-weight="normal" font-style="normal" fill="#222" transform="translate(132.6 0) scale(0.92 1) translate(-132.6 0)">1</text>
<text x="161.9" y="361.5" font-size="8.15" text-anchor="middle" font-weight="normal" font-style="normal" fill="#222" transform="translate(161.9 0) scale(0.92 1) translate(-161.9 0)">+</text>
<text x="161.9" y="371.6" font-size="8.37" text-anchor="middle" font-weight="normal" font-style="normal" fill="#222" transform="translate(161.9 0) scale(0.92 1) translate(-161.9 0)">3</text>
<text x="191.5" y="361.5" font-size="8.15" text-anchor="middle" font-weight="normal" font-style="normal" fill="#222" transform="translate(191.5 0) scale(0.92 1) translate(-191.5 0)">+</text>
<text x="191.5" y="371.6" font-size="8.37" text-anchor="middle" font-weight="normal" font-style="normal" fill="#222" transform="translate(191.5 0) scale(0.92 1) translate(-191.5 0)">6</text>
<text x="280.6" y="233.2" font-size="12" text-anchor="start" font-weight="bold" font-style="normal" fill="#000">D</text>
<line x1="330" y1="254.5" x2="330" y2="282.1" stroke="#1a1a1a" stroke-width="1.0"/>
<line x1="327" y1="282.1" x2="333" y2="282.1" stroke="#1a1a1a" stroke-width="1.0"/>
<line x1="330" y1="288.8" x2="330" y2="315" stroke="#1a1a1a" stroke-width="1.0"/>
<line x1="327" y1="288.8" x2="333" y2="288.8" stroke="#1a1a1a" stroke-width="1.0"/>
<line x1="327" y1="315" x2="333" y2="315" stroke="#1a1a1a" stroke-width="1.0"/>
<line x1="330" y1="322.7" x2="330" y2="348.3" stroke="#1a1a1a" stroke-width="1.0"/>
<line x1="327" y1="322.7" x2="333" y2="322.7" stroke="#1a1a1a" stroke-width="1.0"/>
<line x1="327.3" y1="255.8" x2="330" y2="255.8" stroke="#1a1a1a" stroke-width="1.0"/>
<text x="323" y="258.5" font-size="7.5" text-anchor="end" fill="#222">1.5x10<tspan font-size="4.65" dy="-3.2">10</tspan></text>
<line x1="327.3" y1="266.2" x2="330" y2="266.2" stroke="#1a1a1a" stroke-width="1.0"/>
<text x="323" y="268.9" font-size="7.5" text-anchor="end" fill="#222">1.0x10<tspan font-size="4.65" dy="-3.2">10</tspan></text>
<line x1="327.3" y1="276.7" x2="330" y2="276.7" stroke="#1a1a1a" stroke-width="1.0"/>
<text x="323" y="279.4" font-size="7.5" text-anchor="end" fill="#222">5.0x10<tspan font-size="4.65" dy="-3.2">9</tspan></text>
<line x1="327.3" y1="289.2" x2="330" y2="289.2" stroke="#1a1a1a" stroke-width="1.0"/>
<text x="323" y="291.9" font-size="7.5" text-anchor="end" fill="#222">2.0x10<tspan font-size="4.65" dy="-3.2">9</tspan></text>
<line x1="327.3" y1="302.7" x2="330" y2="302.7" stroke="#1a1a1a" stroke-width="1.0"/>
<text x="323" y="305.4" font-size="7.5" text-anchor="end" fill="#222">1.0x10<tspan font-size="4.65" dy="-3.2">9</tspan></text>
<line x1="327.3" y1="322.7" x2="330" y2="322.7" stroke="#1a1a1a" stroke-width="1.0"/>
<text x="323" y="325.4" font-size="7.5" text-anchor="end" fill="#222">4.0x10<tspan font-size="4.65" dy="-3.2">7</tspan></text>
<line x1="327.3" y1="335.6" x2="330" y2="335.6" stroke="#1a1a1a" stroke-width="1.0"/>
<text x="323" y="338.3" font-size="7.5" text-anchor="end" fill="#222">2.0x10<tspan font-size="4.65" dy="-3.2">7</tspan></text>
<line x1="327.3" y1="347.7" x2="330" y2="347.7" stroke="#1a1a1a" stroke-width="1.0"/>
<text x="322.8" y="350.4" font-size="8.15" text-anchor="end" font-weight="normal" font-style="normal" fill="#222" transform="translate(322.8 0) scale(0.92 1) translate(-322.8 0)">0</text>
<text x="288.6" y="298.2" font-size="8.6" text-anchor="middle" font-weight="normal" font-style="normal" fill="#222" transform="rotate(-90 288.6 298.2)" textLength="71.4" lengthAdjust="spacingAndGlyphs">BLI-tumor growth (p/s)</text>
<line x1="330" y1="348" x2="465.4" y2="348" stroke="#1a1a1a" stroke-width="1.0"/>
<line x1="351.7" y1="348" x2="351.7" y2="351" stroke="#1a1a1a" stroke-width="1.0"/>
<text x="351.7" y="361" font-size="8.15" text-anchor="middle" font-weight="normal" font-style="normal" fill="#222" transform="translate(351.7 0) scale(0.92 1) translate(-351.7 0)">7</text>
<line x1="397.5" y1="348" x2="397.5" y2="351" stroke="#1a1a1a" stroke-width="1.0"/>
<text x="397.5" y="361" font-size="8.15" text-anchor="middle" font-weight="normal" font-style="normal" fill="#222" transform="translate(397.5 0) scale(0.92 1) translate(-397.5 0)">10</text>
<line x1="443.5" y1="348" x2="443.5" y2="351" stroke="#1a1a1a" stroke-width="1.0"/>
<text x="443.5" y="361" font-size="8.15" text-anchor="middle" font-weight="normal" font-style="normal" fill="#222" transform="translate(443.5 0) scale(0.92 1) translate(-443.5 0)">14</text>
<text x="397.5" y="373.5" font-size="8.7" text-anchor="middle" font-weight="normal" font-style="normal" fill="#222" transform="translate(397.5 0) scale(0.92 1) translate(-397.5 0)">Days</text>
<rect x="338.3" y="332.7" width="10.5" height="15.0" fill="#6aab45"/>
<line x1="343.55" y1="324.6" x2="343.55" y2="332.7" stroke="#222" stroke-width="1.0"/>
<line x1="341.05" y1="324.6" x2="346.05" y2="324.6" stroke="#222" stroke-width="1.0"/>
<rect x="355.2" y="346.3" width="10.800000000000011" height="1.3999999999999773" fill="#a8002c"/>
<line x1="360.6" y1="344.3" x2="360.6" y2="346.3" stroke="#222" stroke-width="1.0"/>
<line x1="358.1" y1="344.3" x2="363.1" y2="344.3" stroke="#222" stroke-width="1.0"/>
<rect x="383.1" y="302.1" width="11.599999999999966" height="13.299999999999955" fill="#6aab45"/>
<rect x="383.1" y="322.4" width="11.599999999999966" height="25.30000000000001" fill="#6aab45"/>
<line x1="388.9" y1="291" x2="388.9" y2="302.1" stroke="#222" stroke-width="1.0"/>
<line x1="386.4" y1="291" x2="391.4" y2="291" stroke="#222" stroke-width="1.0"/>
<rect x="400.7" y="312.8" width="11.300000000000011" height="2.599999999999966" fill="#a8002c"/>
<rect x="400.7" y="322.4" width="11.300000000000011" height="25.30000000000001" fill="#a8002c"/>
<line x1="406.35" y1="306" x2="406.35" y2="312.8" stroke="#222" stroke-width="1.0"/>
<line x1="403.85" y1="306" x2="408.85" y2="306" stroke="#222" stroke-width="1.0"/>
<rect x="428.5" y="275.3" width="11.399999999999977" height="7.099999999999966" fill="#6aab45"/>
<rect x="428.5" y="289.7" width="11.399999999999977" height="25.69999999999999" fill="#6aab45"/>
<rect x="428.5" y="322.4" width="11.399999999999977" height="25.30000000000001" fill="#6aab45"/>
<line x1="434.2" y1="266.8" x2="434.2" y2="275.3" stroke="#222" stroke-width="1.0"/>
<line x1="431.7" y1="266.8" x2="436.7" y2="266.8" stroke="#222" stroke-width="1.0"/>
<rect x="446.3" y="310" width="11.099999999999966" height="5.399999999999977" fill="#a8002c"/>
<rect x="446.3" y="322.4" width="11.099999999999966" height="25.30000000000001" fill="#a8002c"/>
<line x1="451.85" y1="302.7" x2="451.85" y2="310" stroke="#222" stroke-width="1.0"/>
<line x1="449.35" y1="302.7" x2="454.35" y2="302.7" stroke="#222" stroke-width="1.0"/>
<line x1="342.7" y1="314.6" x2="360" y2="314.6" stroke="#1a1a1a" stroke-width="0.8"/>
<line x1="360" y1="314.6" x2="360" y2="327.5" stroke="#1a1a1a" stroke-width="0.8"/>
<text x="348.8" y="311.2" font-size="6" text-anchor="middle" fill="#222"><tspan font-style="italic">P</tspan> 0.002</text>
<line x1="388.9" y1="280.7" x2="406.7" y2="280.7" stroke="#1a1a1a" stroke-width="0.8"/>
<line x1="406.7" y1="280.7" x2="406.7" y2="294.6" stroke="#1a1a1a" stroke-width="0.8"/>
<text x="396" y="276.5" font-size="6" text-anchor="middle" fill="#222"><tspan font-style="italic">P</tspan> 0.03</text>
<line x1="435" y1="256.7" x2="453.1" y2="256.7" stroke="#1a1a1a" stroke-width="0.8"/>
<line x1="453.1" y1="256.7" x2="453.1" y2="270.4" stroke="#1a1a1a" stroke-width="0.8"/>
<text x="441" y="252.7" font-size="6" text-anchor="middle" fill="#222"><tspan font-style="italic">P</tspan> 0.008</text>
<rect x="475" y="257.5" width="9.5" height="9" fill="#6aab45"/>
<text x="487.5" y="265" font-size="8.15" text-anchor="start" font-weight="normal" font-style="normal" fill="#222" transform="translate(487.5 0) scale(0.92 1) translate(-487.5 0)">Vehicle</text>
<rect x="475" y="271.7" width="9.5" height="9.2" fill="#a8002c"/>
<text x="487.5" y="279.3" font-size="8.15" text-anchor="start" font-weight="normal" font-style="normal" fill="#222" transform="translate(487.5 0) scale(0.92 1) translate(-487.5 0)">NSC12</text>
<text x="7" y="396" font-size="12" text-anchor="start" font-weight="bold" font-style="normal" fill="#000">E</text>
<text x="78" y="407.8" font-size="8.7" text-anchor="middle" font-weight="normal" font-style="normal" fill="#222" transform="translate(78 0) scale(0.92 1) translate(-78 0)">Vehicle</text>
<text x="183" y="407.8" font-size="8.7" text-anchor="middle" font-weight="normal" font-style="normal" fill="#222" transform="translate(183 0) scale(0.92 1) translate(-183 0)">NSC12</text>
<rect x="30.5" y="411.6" width="95.3" height="1.8" fill="#444"/>
<rect x="135.5" y="411.6" width="95" height="1.8" fill="#444"/>
<line x1="31.8" y1="416.5" x2="31.8" y2="442.7" stroke="#333" stroke-width="1.2"/>
<text x="26.3" y="429.6" font-size="8" text-anchor="middle" font-weight="normal" font-style="normal" fill="#222" transform="rotate(-90 26.3 429.6)">Day 7</text>
<line x1="31.8" y1="445.8" x2="31.8" y2="472.0" stroke="#333" stroke-width="1.2"/>
<text x="26.3" y="458.90000000000003" font-size="8" text-anchor="middle" font-weight="normal" font-style="normal" fill="#222" transform="rotate(-90 26.3 458.90000000000003)">Day 10</text>
<line x1="31.8" y1="475.8" x2="31.8" y2="502.0" stroke="#333" stroke-width="1.2"/>
<text x="26.3" y="488.90000000000003" font-size="8" text-anchor="middle" font-weight="normal" font-style="normal" fill="#222" transform="rotate(-90 26.3 488.90000000000003)">Day 14</text>
<rect x="34.25" y="416.5" width="16.4" height="26.2" fill="#1e1e1e"/>
<path d="M42.45,417.29 L44.63,418.33 L45.57,421.22 L45.25,423.31 L48.37,424.10 L49.93,425.15 L46.50,426.46 L47.12,429.60 L47.90,433.79 L48.68,436.94 L49.93,439.03 L47.12,440.08 L44.32,439.29 L42.92,441.91 L41.98,441.91 L40.58,439.29 L37.78,440.08 L34.97,439.03 L36.22,436.94 L37.00,433.79 L37.78,429.60 L38.40,426.46 L34.97,425.15 L36.53,424.10 L39.65,423.31 L39.33,421.22 L40.27,418.33 Z" fill="#a4a4a4" filter="url(#bl08)"/>
<path d="M42.45,418.27 L44.22,419.24 L44.97,421.89 L44.72,423.82 L47.24,424.54 L48.50,425.50 L45.73,426.71 L46.23,429.60 L46.86,433.46 L47.50,436.35 L48.50,438.28 L46.23,439.24 L43.96,438.52 L42.83,440.93 L42.07,440.93 L40.94,438.52 L38.67,439.24 L36.40,438.28 L37.40,436.35 L38.04,433.46 L38.67,429.60 L39.17,426.71 L36.40,425.50 L37.66,424.54 L40.18,423.82 L39.93,421.89 L40.68,419.24 Z" fill="#e4e4e4" filter="url(#bl1)"/>
<rect x="137" y="416.5" width="16.4" height="26.2" fill="#1e1e1e"/>
<path d="M145.20,417.29 L147.77,418.33 L148.87,421.22 L148.51,423.31 L152.18,424.10 L154.02,425.15 L149.98,426.46 L150.71,429.60 L151.63,433.79 L152.55,436.94 L154.02,439.03 L150.71,440.08 L147.40,439.29 L145.75,441.91 L144.65,441.91 L143.00,439.29 L139.69,440.08 L136.38,439.03 L137.85,436.94 L138.77,433.79 L139.69,429.60 L140.42,426.46 L136.38,425.15 L138.22,424.10 L141.89,423.31 L141.53,421.22 L142.63,418.33 Z" fill="#a4a4a4" filter="url(#bl08)"/>
<path d="M145.20,418.27 L147.28,419.24 L148.17,421.89 L147.88,423.82 L150.85,424.54 L152.34,425.50 L149.07,426.71 L149.66,429.60 L150.40,433.46 L151.15,436.35 L152.34,438.28 L149.66,439.24 L146.98,438.52 L145.65,440.93 L144.75,440.93 L143.42,438.52 L140.74,439.24 L138.06,438.28 L139.25,436.35 L140.00,433.46 L140.74,429.60 L141.33,426.71 L138.06,425.50 L139.55,424.54 L142.52,423.82 L142.23,421.89 L143.12,419.24 Z" fill="#e4e4e4" filter="url(#bl1)"/>
<rect x="52.5" y="416.5" width="16.4" height="26.2" fill="#1e1e1e"/>
<path d="M60.70,417.29 L62.88,418.33 L63.82,421.22 L63.50,423.31 L66.62,424.10 L68.18,425.15 L64.75,426.46 L65.37,429.60 L66.15,433.79 L66.93,436.94 L68.18,439.03 L65.37,440.08 L62.57,439.29 L61.17,441.91 L60.23,441.91 L58.83,439.29 L56.03,440.08 L53.22,439.03 L54.47,436.94 L55.25,433.79 L56.03,429.60 L56.65,426.46 L53.22,425.15 L54.78,424.10 L57.90,423.31 L57.58,421.22 L58.52,418.33 Z" fill="#a4a4a4" filter="url(#bl08)"/>
<path d="M60.70,418.27 L62.47,419.24 L63.22,421.89 L62.97,423.82 L65.49,424.54 L66.75,425.50 L63.98,426.71 L64.48,429.60 L65.11,433.46 L65.75,436.35 L66.75,438.28 L64.48,439.24 L62.21,438.52 L61.08,440.93 L60.32,440.93 L59.19,438.52 L56.92,439.24 L54.65,438.28 L55.65,436.35 L56.29,433.46 L56.92,429.60 L57.42,426.71 L54.65,425.50 L55.91,424.54 L58.43,423.82 L58.18,421.89 L58.93,419.24 Z" fill="#e4e4e4" filter="url(#bl1)"/>
<rect x="155" y="416.5" width="16.4" height="26.2" fill="#1e1e1e"/>
<path d="M163.20,417.29 L165.77,418.33 L166.87,421.22 L166.51,423.31 L170.18,424.10 L172.02,425.15 L167.98,426.46 L168.71,429.60 L169.63,433.79 L170.55,436.94 L172.02,439.03 L168.71,440.08 L165.40,439.29 L163.75,441.91 L162.65,441.91 L161.00,439.29 L157.69,440.08 L154.38,439.03 L155.85,436.94 L156.77,433.79 L157.69,429.60 L158.42,426.46 L154.38,425.15 L156.22,424.10 L159.89,423.31 L159.53,421.22 L160.63,418.33 Z" fill="#a4a4a4" filter="url(#bl08)"/>
<path d="M163.20,418.27 L165.28,419.24 L166.17,421.89 L165.88,423.82 L168.85,424.54 L170.34,425.50 L167.07,426.71 L167.66,429.60 L168.40,433.46 L169.15,436.35 L170.34,438.28 L167.66,439.24 L164.98,438.52 L163.65,440.93 L162.75,440.93 L161.42,438.52 L158.74,439.24 L156.06,438.28 L157.25,436.35 L158.00,433.46 L158.74,429.60 L159.33,426.71 L156.06,425.50 L157.55,424.54 L160.52,423.82 L160.23,421.89 L161.12,419.24 Z" fill="#e4e4e4" filter="url(#bl1)"/>
<rect x="71.25" y="416.5" width="16.4" height="26.2" fill="#1e1e1e"/>
<path d="M79.45,417.29 L81.63,418.33 L82.57,421.22 L82.25,423.31 L85.37,424.10 L86.93,425.15 L83.50,426.46 L84.12,429.60 L84.90,433.79 L85.68,436.94 L86.93,439.03 L84.12,440.08 L81.32,439.29 L79.92,441.91 L78.98,441.91 L77.58,439.29 L74.78,440.08 L71.97,439.03 L73.22,436.94 L74.00,433.79 L74.78,429.60 L75.40,426.46 L71.97,425.15 L73.53,424.10 L76.65,423.31 L76.33,421.22 L77.27,418.33 Z" fill="#a4a4a4" filter="url(#bl08)"/>
<path d="M79.45,418.27 L81.22,419.24 L81.97,421.89 L81.72,423.82 L84.24,424.54 L85.50,425.50 L82.73,426.71 L83.23,429.60 L83.86,433.46 L84.50,436.35 L85.50,438.28 L83.23,439.24 L80.96,438.52 L79.83,440.93 L79.07,440.93 L77.94,438.52 L75.67,439.24 L73.40,438.28 L74.40,436.35 L75.04,433.46 L75.67,429.60 L76.17,426.71 L73.40,425.50 L74.66,424.54 L77.18,423.82 L76.93,421.89 L77.68,419.24 Z" fill="#e4e4e4" filter="url(#bl1)"/>
<rect x="174.25" y="416.5" width="16.4" height="26.2" fill="#1e1e1e"/>
<path d="M182.45,417.29 L185.02,418.33 L186.12,421.22 L185.76,423.31 L189.43,424.10 L191.27,425.15 L187.23,426.46 L187.96,429.60 L188.88,433.79 L189.80,436.94 L191.27,439.03 L187.96,440.08 L184.65,439.29 L183.00,441.91 L181.90,441.91 L180.25,439.29 L176.94,440.08 L173.63,439.03 L175.10,436.94 L176.02,433.79 L176.94,429.60 L177.67,426.46 L173.63,425.15 L175.47,424.10 L179.14,423.31 L178.78,421.22 L179.88,418.33 Z" fill="#a4a4a4" filter="url(#bl08)"/>
<path d="M182.45,418.27 L184.53,419.24 L185.42,421.89 L185.13,423.82 L188.10,424.54 L189.59,425.50 L186.32,426.71 L186.91,429.60 L187.65,433.46 L188.40,436.35 L189.59,438.28 L186.91,439.24 L184.23,438.52 L182.90,440.93 L182.00,440.93 L180.67,438.52 L177.99,439.24 L175.31,438.28 L176.50,436.35 L177.25,433.46 L177.99,429.60 L178.58,426.71 L175.31,425.50 L176.80,424.54 L179.77,423.82 L179.48,421.89 L180.37,419.24 Z" fill="#e4e4e4" filter="url(#bl1)"/>
<rect x="90" y="416.5" width="16.4" height="26.2" fill="#1e1e1e"/>
<path d="M98.20,417.29 L100.38,418.33 L101.32,421.22 L101.00,423.31 L104.12,424.10 L105.68,425.15 L102.25,426.46 L102.87,429.60 L103.65,433.79 L104.43,436.94 L105.68,439.03 L102.87,440.08 L100.07,439.29 L98.67,441.91 L97.73,441.91 L96.33,439.29 L93.53,440.08 L90.72,439.03 L91.97,436.94 L92.75,433.79 L93.53,429.60 L94.15,426.46 L90.72,425.15 L92.28,424.10 L95.40,423.31 L95.08,421.22 L96.02,418.33 Z" fill="#a4a4a4" filter="url(#bl08)"/>
<path d="M98.20,418.27 L99.97,419.24 L100.72,421.89 L100.47,423.82 L102.99,424.54 L104.25,425.50 L101.48,426.71 L101.98,429.60 L102.61,433.46 L103.25,436.35 L104.25,438.28 L101.98,439.24 L99.71,438.52 L98.58,440.93 L97.82,440.93 L96.69,438.52 L94.42,439.24 L92.15,438.28 L93.15,436.35 L93.79,433.46 L94.42,429.60 L94.92,426.71 L92.15,425.50 L93.41,424.54 L95.93,423.82 L95.68,421.89 L96.43,419.24 Z" fill="#e4e4e4" filter="url(#bl1)"/>
<rect x="193.25" y="416.5" width="16.4" height="26.2" fill="#1e1e1e"/>
<path d="M201.45,417.29 L204.02,418.33 L205.12,421.22 L204.76,423.31 L208.43,424.10 L210.27,425.15 L206.23,426.46 L206.96,429.60 L207.88,433.79 L208.80,436.94 L210.27,439.03 L206.96,440.08 L203.65,439.29 L202.00,441.91 L200.90,441.91 L199.25,439.29 L195.94,440.08 L192.63,439.03 L194.10,436.94 L195.02,433.79 L195.94,429.60 L196.67,426.46 L192.63,425.15 L194.47,424.10 L198.14,423.31 L197.78,421.22 L198.88,418.33 Z" fill="#a4a4a4" filter="url(#bl08)"/>
<path d="M201.45,418.27 L203.53,419.24 L204.42,421.89 L204.13,423.82 L207.10,424.54 L208.59,425.50 L205.32,426.71 L205.91,429.60 L206.65,433.46 L207.40,436.35 L208.59,438.28 L205.91,439.24 L203.23,438.52 L201.90,440.93 L201.00,440.93 L199.67,438.52 L196.99,439.24 L194.31,438.28 L195.50,436.35 L196.25,433.46 L196.99,429.60 L197.58,426.71 L194.31,425.50 L195.80,424.54 L198.77,423.82 L198.48,421.89 L199.37,419.24 Z" fill="#e4e4e4" filter="url(#bl1)"/>
<rect x="108.75" y="416.5" width="16.4" height="26.2" fill="#1e1e1e"/>
<path d="M116.95,417.29 L119.13,418.33 L120.07,421.22 L119.75,423.31 L122.87,424.10 L124.43,425.15 L121.00,426.46 L121.62,429.60 L122.40,433.79 L123.18,436.94 L124.43,439.03 L121.62,440.08 L118.82,439.29 L117.42,441.91 L116.48,441.91 L115.08,439.29 L112.28,440.08 L109.47,439.03 L110.72,436.94 L111.50,433.79 L112.28,429.60 L112.90,426.46 L109.47,425.15 L111.03,424.10 L114.15,423.31 L113.83,421.22 L114.77,418.33 Z" fill="#a4a4a4" filter="url(#bl08)"/>
<path d="M116.95,418.27 L118.72,419.24 L119.47,421.89 L119.22,423.82 L121.74,424.54 L123.00,425.50 L120.23,426.71 L120.73,429.60 L121.36,433.46 L122.00,436.35 L123.00,438.28 L120.73,439.24 L118.46,438.52 L117.33,440.93 L116.57,440.93 L115.44,438.52 L113.17,439.24 L110.90,438.28 L111.90,436.35 L112.54,433.46 L113.17,429.60 L113.67,426.71 L110.90,425.50 L112.16,424.54 L114.68,423.82 L114.43,421.89 L115.18,419.24 Z" fill="#e4e4e4" filter="url(#bl1)"/>
<rect x="212.5" y="416.5" width="16.4" height="26.2" fill="#1e1e1e"/>
<path d="M220.70,417.29 L223.27,418.33 L224.37,421.22 L224.01,423.31 L227.68,424.10 L229.52,425.15 L225.48,426.46 L226.21,429.60 L227.13,433.79 L228.05,436.94 L229.52,439.03 L226.21,440.08 L222.90,439.29 L221.25,441.91 L220.15,441.91 L218.50,439.29 L215.19,440.08 L211.88,439.03 L213.35,436.94 L214.27,433.79 L215.19,429.60 L215.92,426.46 L211.88,425.15 L213.72,424.10 L217.39,423.31 L217.03,421.22 L218.13,418.33 Z" fill="#a4a4a4" filter="url(#bl08)"/>
<path d="M220.70,418.27 L222.78,419.24 L223.67,421.89 L223.38,423.82 L226.35,424.54 L227.84,425.50 L224.57,426.71 L225.16,429.60 L225.90,433.46 L226.65,436.35 L227.84,438.28 L225.16,439.24 L222.48,438.52 L221.15,440.93 L220.25,440.93 L218.92,438.52 L216.24,439.24 L213.56,438.28 L214.75,436.35 L215.50,433.46 L216.24,429.60 L216.83,426.71 L213.56,425.50 L215.05,424.54 L218.02,423.82 L217.73,421.89 L218.62,419.24 Z" fill="#e4e4e4" filter="url(#bl1)"/>
<rect x="34.25" y="445.8" width="16.4" height="26.2" fill="#1e1e1e"/>
<path d="M42.45,446.59 L44.63,447.63 L45.57,450.52 L45.25,452.61 L48.37,453.40 L49.93,454.45 L46.50,455.76 L47.12,458.90 L47.90,463.09 L48.68,466.24 L49.93,468.33 L47.12,469.38 L44.32,468.59 L42.92,471.21 L41.98,471.21 L40.58,468.59 L37.78,469.38 L34.97,468.33 L36.22,466.24 L37.00,463.09 L37.78,458.90 L38.40,455.76 L34.97,454.45 L36.53,453.40 L39.65,452.61 L39.33,450.52 L40.27,447.63 Z" fill="#a4a4a4" filter="url(#bl08)"/>
<path d="M42.45,447.57 L44.22,448.54 L44.97,451.19 L44.72,453.12 L47.24,453.84 L48.50,454.80 L45.73,456.01 L46.23,458.90 L46.86,462.76 L47.50,465.65 L48.50,467.58 L46.23,468.54 L43.96,467.82 L42.83,470.23 L42.07,470.23 L40.94,467.82 L38.67,468.54 L36.40,467.58 L37.40,465.65 L38.04,462.76 L38.67,458.90 L39.17,456.01 L36.40,454.80 L37.66,453.84 L40.18,453.12 L39.93,451.19 L40.68,448.54 Z" fill="#e4e4e4" filter="url(#bl1)"/>
<ellipse cx="42.45" cy="461.52" rx="3.9359999999999995" ry="5.764" fill="#3c38cc" filter="url(#bl05)"/>
<ellipse cx="42.95" cy="450.254" rx="1.6" ry="1.5" fill="#3c38cc" filter="url(#bl05)"/>
<ellipse cx="36.75" cy="455.232" rx="2" ry="1.2" fill="#4a3cc8" filter="url(#bl05)"/>
<ellipse cx="37.25" cy="466.76" rx="1.6" ry="1.2" fill="#4a3cc8" filter="url(#bl05)"/>
<ellipse cx="47.65" cy="466.236" rx="1.6" ry="1.2" fill="#4a3cc8" filter="url(#bl05)"/>
<ellipse cx="42.45" cy="460.21000000000004" rx="1.148" ry="2.3579999999999997" fill="#50c0d8" filter="url(#bl05)"/>
<rect x="137" y="445.8" width="16.4" height="26.2" fill="#1e1e1e"/>
<path d="M145.20,446.59 L147.77,447.63 L148.87,450.52 L148.51,452.61 L152.18,453.40 L154.02,454.45 L149.98,455.76 L150.71,458.90 L151.63,463.09 L152.55,466.24 L154.02,468.33 L150.71,469.38 L147.40,468.59 L145.75,471.21 L144.65,471.21 L143.00,468.59 L139.69,469.38 L136.38,468.33 L137.85,466.24 L138.77,463.09 L139.69,458.90 L140.42,455.76 L136.38,454.45 L138.22,453.40 L141.89,452.61 L141.53,450.52 L142.63,447.63 Z" fill="#a4a4a4" filter="url(#bl08)"/>
<path d="M145.20,447.57 L147.28,448.54 L148.17,451.19 L147.88,453.12 L150.85,453.84 L152.34,454.80 L149.07,456.01 L149.66,458.90 L150.40,462.76 L151.15,465.65 L152.34,467.58 L149.66,468.54 L146.98,467.82 L145.65,470.23 L144.75,470.23 L143.42,467.82 L140.74,468.54 L138.06,467.58 L139.25,465.65 L140.00,462.76 L140.74,458.90 L141.33,456.01 L138.06,454.80 L139.55,453.84 L142.52,453.12 L142.23,451.19 L143.12,448.54 Z" fill="#e4e4e4" filter="url(#bl1)"/>
<rect x="52.5" y="445.8" width="16.4" height="26.2" fill="#1e1e1e"/>
<path d="M60.70,446.59 L62.88,447.63 L63.82,450.52 L63.50,452.61 L66.62,453.40 L68.18,454.45 L64.75,455.76 L65.37,458.90 L66.15,463.09 L66.93,466.24 L68.18,468.33 L65.37,469.38 L62.57,468.59 L61.17,471.21 L60.23,471.21 L58.83,468.59 L56.03,469.38 L53.22,468.33 L54.47,466.24 L55.25,463.09 L56.03,458.90 L56.65,455.76 L53.22,454.45 L54.78,453.40 L57.90,452.61 L57.58,450.52 L58.52,447.63 Z" fill="#a4a4a4" filter="url(#bl08)"/>
<path d="M60.70,447.57 L62.47,448.54 L63.22,451.19 L62.97,453.12 L65.49,453.84 L66.75,454.80 L63.98,456.01 L64.48,458.90 L65.11,462.76 L65.75,465.65 L66.75,467.58 L64.48,468.54 L62.21,467.82 L61.08,470.23 L60.32,470.23 L59.19,467.82 L56.92,468.54 L54.65,467.58 L55.65,465.65 L56.29,462.76 L56.92,458.90 L57.42,456.01 L54.65,454.80 L55.91,453.84 L58.43,453.12 L58.18,451.19 L58.93,448.54 Z" fill="#e4e4e4" filter="url(#bl1)"/>
<ellipse cx="60.2" cy="461.52" rx="2.6239999999999997" ry="6.287999999999999" fill="#3c38cc" filter="url(#bl05)"/>
<ellipse cx="59.7" cy="452.35" rx="1.4" ry="1.6" fill="#3c38cc" filter="url(#bl05)"/>
<ellipse cx="62.2" cy="455.232" rx="1.4" ry="1.4" fill="#3c38cc" filter="url(#bl05)"/>
<ellipse cx="55.0" cy="468.332" rx="1.6" ry="1.2" fill="#4a3cc8" filter="url(#bl05)"/>
<ellipse cx="66.4" cy="468.332" rx="1.6" ry="1.2" fill="#4a3cc8" filter="url(#bl05)"/>
<rect x="155" y="445.8" width="16.4" height="26.2" fill="#1e1e1e"/>
<path d="M163.20,446.59 L165.77,447.63 L166.87,450.52 L166.51,452.61 L170.18,453.40 L172.02,454.45 L167.98,455.76 L168.71,458.90 L169.63,463.09 L170.55,466.24 L172.02,468.33 L168.71,469.38 L165.40,468.59 L163.75,471.21 L162.65,471.21 L161.00,468.59 L157.69,469.38 L154.38,468.33 L155.85,466.24 L156.77,463.09 L157.69,458.90 L158.42,455.76 L154.38,454.45 L156.22,453.40 L159.89,452.61 L159.53,450.52 L160.63,447.63 Z" fill="#a4a4a4" filter="url(#bl08)"/>
<path d="M163.20,447.57 L165.28,448.54 L166.17,451.19 L165.88,453.12 L168.85,453.84 L170.34,454.80 L167.07,456.01 L167.66,458.90 L168.40,462.76 L169.15,465.65 L170.34,467.58 L167.66,468.54 L164.98,467.82 L163.65,470.23 L162.75,470.23 L161.42,467.82 L158.74,468.54 L156.06,467.58 L157.25,465.65 L158.00,462.76 L158.74,458.90 L159.33,456.01 L156.06,454.80 L157.55,453.84 L160.52,453.12 L160.23,451.19 L161.12,448.54 Z" fill="#e4e4e4" filter="url(#bl1)"/>
<clipPath id="mc1"><path d="M163.20,446.96 L165.69,447.97 L166.76,450.77 L166.41,452.80 L169.97,453.56 L171.75,454.58 L167.83,455.85 L168.55,458.90 L169.44,462.97 L170.33,466.02 L171.75,468.05 L168.55,469.07 L165.34,468.30 L163.73,470.84 L162.67,470.84 L161.06,468.30 L157.85,469.07 L154.65,468.05 L156.07,466.02 L156.96,462.97 L157.85,458.90 L158.57,455.85 L154.65,454.58 L156.43,453.56 L159.99,452.80 L159.64,450.77 L160.71,447.97 Z"/></clipPath>
<g clip-path="url(#mc1)" filter="url(#bl05)">
<path d="M163.20,448.24 L165.30,449.14 L166.20,451.62 L165.90,453.42 L168.90,454.09 L170.40,455.00 L167.10,456.12 L167.70,458.83 L168.45,462.43 L169.20,465.14 L170.40,466.94 L167.70,467.84 L165.00,467.16 L163.65,469.42 L162.75,469.42 L161.40,467.16 L158.70,467.84 L156.00,466.94 L157.20,465.14 L157.95,462.43 L158.70,458.83 L159.30,456.12 L156.00,455.00 L157.50,454.09 L160.50,453.42 L160.20,451.62 L161.10,449.14 Z" fill="#3a36cc"/>
<ellipse cx="163.20" cy="460.21" rx="2.02" ry="5.39" fill="#2fb4e6"/>
<ellipse cx="163.20" cy="460.21" rx="0.82" ry="4.19" fill="#3cbf4c"/>
</g>
<rect x="71.25" y="445.8" width="16.4" height="26.2" fill="#1e1e1e"/>
<path d="M79.45,446.59 L81.63,447.63 L82.57,450.52 L82.25,452.61 L85.37,453.40 L86.93,454.45 L83.50,455.76 L84.12,458.90 L84.90,463.09 L85.68,466.24 L86.93,468.33 L84.12,469.38 L81.32,468.59 L79.92,471.21 L78.98,471.21 L77.58,468.59 L74.78,469.38 L71.97,468.33 L73.22,466.24 L74.00,463.09 L74.78,458.90 L75.40,455.76 L71.97,454.45 L73.53,453.40 L76.65,452.61 L76.33,450.52 L77.27,447.63 Z" fill="#a4a4a4" filter="url(#bl08)"/>
<path d="M79.45,447.57 L81.22,448.54 L81.97,451.19 L81.72,453.12 L84.24,453.84 L85.50,454.80 L82.73,456.01 L83.23,458.90 L83.86,462.76 L84.50,465.65 L85.50,467.58 L83.23,468.54 L80.96,467.82 L79.83,470.23 L79.07,470.23 L77.94,467.82 L75.67,468.54 L73.40,467.58 L74.40,465.65 L75.04,462.76 L75.67,458.90 L76.17,456.01 L73.40,454.80 L74.66,453.84 L77.18,453.12 L76.93,451.19 L77.68,448.54 Z" fill="#e4e4e4" filter="url(#bl1)"/>
<clipPath id="mc2"><path d="M79.45,446.96 L81.57,447.97 L82.47,450.77 L82.17,452.80 L85.19,453.56 L86.70,454.58 L83.38,455.85 L83.98,458.90 L84.74,462.97 L85.50,466.02 L86.70,468.05 L83.98,469.07 L81.26,468.30 L79.90,470.84 L79.00,470.84 L77.64,468.30 L74.92,469.07 L72.20,468.05 L73.40,466.02 L74.16,462.97 L74.92,458.90 L75.52,455.85 L72.20,454.58 L73.71,453.56 L76.73,452.80 L76.43,450.77 L77.33,447.97 Z"/></clipPath>
<g clip-path="url(#mc2)" filter="url(#bl05)">
<path d="M79.45,448.24 L81.23,449.14 L82.00,451.62 L81.74,453.42 L84.29,454.09 L85.56,455.00 L82.76,456.12 L83.27,458.83 L83.91,462.43 L84.54,465.14 L85.56,466.94 L83.27,467.84 L80.98,467.16 L79.83,469.42 L79.07,469.42 L77.92,467.16 L75.63,467.84 L73.34,466.94 L74.36,465.14 L74.99,462.43 L75.63,458.83 L76.14,456.12 L73.34,455.00 L74.61,454.09 L77.16,453.42 L76.90,451.62 L77.67,449.14 Z" fill="#3a36cc"/>
<ellipse cx="79.45" cy="460.21" rx="2.02" ry="5.39" fill="#2fb4e6"/>
<ellipse cx="79.45" cy="460.21" rx="0.82" ry="4.19" fill="#3cbf4c"/>
</g>
<rect x="174.25" y="445.8" width="16.4" height="26.2" fill="#1e1e1e"/>
<path d="M182.45,446.59 L185.02,447.63 L186.12,450.52 L185.76,452.61 L189.43,453.40 L191.27,454.45 L187.23,455.76 L187.96,458.90 L188.88,463.09 L189.80,466.24 L191.27,468.33 L187.96,469.38 L184.65,468.59 L183.00,471.21 L181.90,471.21 L180.25,468.59 L176.94,469.38 L173.63,468.33 L175.10,466.24 L176.02,463.09 L176.94,458.90 L177.67,455.76 L173.63,454.45 L175.47,453.40 L179.14,452.61 L178.78,450.52 L179.88,447.63 Z" fill="#a4a4a4" filter="url(#bl08)"/>
<path d="M182.45,447.57 L184.53,448.54 L185.42,451.19 L185.13,453.12 L188.10,453.84 L189.59,454.80 L186.32,456.01 L186.91,458.90 L187.65,462.76 L188.40,465.65 L189.59,467.58 L186.91,468.54 L184.23,467.82 L182.90,470.23 L182.00,470.23 L180.67,467.82 L177.99,468.54 L175.31,467.58 L176.50,465.65 L177.25,462.76 L177.99,458.90 L178.58,456.01 L175.31,454.80 L176.80,453.84 L179.77,453.12 L179.48,451.19 L180.37,448.54 Z" fill="#e4e4e4" filter="url(#bl1)"/>
<rect x="90" y="445.8" width="16.4" height="26.2" fill="#1e1e1e"/>
<path d="M98.20,446.59 L100.38,447.63 L101.32,450.52 L101.00,452.61 L104.12,453.40 L105.68,454.45 L102.25,455.76 L102.87,458.90 L103.65,463.09 L104.43,466.24 L105.68,468.33 L102.87,469.38 L100.07,468.59 L98.67,471.21 L97.73,471.21 L96.33,468.59 L93.53,469.38 L90.72,468.33 L91.97,466.24 L92.75,463.09 L93.53,458.90 L94.15,455.76 L90.72,454.45 L92.28,453.40 L95.40,452.61 L95.08,450.52 L96.02,447.63 Z" fill="#a4a4a4" filter="url(#bl08)"/>
<path d="M98.20,447.57 L99.97,448.54 L100.72,451.19 L100.47,453.12 L102.99,453.84 L104.25,454.80 L101.48,456.01 L101.98,458.90 L102.61,462.76 L103.25,465.65 L104.25,467.58 L101.98,468.54 L99.71,467.82 L98.58,470.23 L97.82,470.23 L96.69,467.82 L94.42,468.54 L92.15,467.58 L93.15,465.65 L93.79,462.76 L94.42,458.90 L94.92,456.01 L92.15,454.80 L93.41,453.84 L95.93,453.12 L95.68,451.19 L96.43,448.54 Z" fill="#e4e4e4" filter="url(#bl1)"/>
<clipPath id="mc3"><path d="M98.20,446.96 L100.32,447.97 L101.22,450.77 L100.92,452.80 L103.94,453.56 L105.45,454.58 L102.13,455.85 L102.73,458.90 L103.49,462.97 L104.25,466.02 L105.45,468.05 L102.73,469.07 L100.01,468.30 L98.65,470.84 L97.75,470.84 L96.39,468.30 L93.67,469.07 L90.95,468.05 L92.15,466.02 L92.91,462.97 L93.67,458.90 L94.27,455.85 L90.95,454.58 L92.46,453.56 L95.48,452.80 L95.18,450.77 L96.08,447.97 Z"/></clipPath>
<g clip-path="url(#mc3)" filter="url(#bl05)">
<path d="M98.20,448.24 L99.98,449.14 L100.75,451.62 L100.49,453.42 L103.04,454.09 L104.31,455.00 L101.51,456.12 L102.02,458.83 L102.66,462.43 L103.29,465.14 L104.31,466.94 L102.02,467.84 L99.73,467.16 L98.58,469.42 L97.82,469.42 L96.67,467.16 L94.38,467.84 L92.09,466.94 L93.11,465.14 L93.74,462.43 L94.38,458.83 L94.89,456.12 L92.09,455.00 L93.36,454.09 L95.91,453.42 L95.65,451.62 L96.42,449.14 Z" fill="#3a36cc"/>
<ellipse cx="98.20" cy="460.21" rx="2.02" ry="5.39" fill="#2fb4e6"/>
<ellipse cx="98.20" cy="460.21" rx="0.82" ry="4.19" fill="#3cbf4c"/>
</g>
<rect x="193.25" y="445.8" width="16.4" height="26.2" fill="#1e1e1e"/>
<path d="M201.45,446.59 L204.02,447.63 L205.12,450.52 L204.76,452.61 L208.43,453.40 L210.27,454.45 L206.23,455.76 L206.96,458.90 L207.88,463.09 L208.80,466.24 L210.27,468.33 L206.96,469.38 L203.65,468.59 L202.00,471.21 L200.90,471.21 L199.25,468.59 L195.94,469.38 L192.63,468.33 L194.10,466.24 L195.02,463.09 L195.94,458.90 L196.67,455.76 L192.63,454.45 L194.47,453.40 L198.14,452.61 L197.78,450.52 L198.88,447.63 Z" fill="#a4a4a4" filter="url(#bl08)"/>
<path d="M201.45,447.57 L203.53,448.54 L204.42,451.19 L204.13,453.12 L207.10,453.84 L208.59,454.80 L205.32,456.01 L205.91,458.90 L206.65,462.76 L207.40,465.65 L208.59,467.58 L205.91,468.54 L203.23,467.82 L201.90,470.23 L201.00,470.23 L199.67,467.82 L196.99,468.54 L194.31,467.58 L195.50,465.65 L196.25,462.76 L196.99,458.90 L197.58,456.01 L194.31,454.80 L195.80,453.84 L198.77,453.12 L198.48,451.19 L199.37,448.54 Z" fill="#e4e4e4" filter="url(#bl1)"/>
<ellipse cx="201.45" cy="457.59000000000003" rx="1.2" ry="1.6" fill="#4040c0"/>
<ellipse cx="201.45" cy="462.044" rx="1" ry="1.4" fill="#4040c0"/>
<rect x="108.75" y="445.8" width="16.4" height="26.2" fill="#1e1e1e"/>
<path d="M116.95,446.59 L119.13,447.63 L120.07,450.52 L119.75,452.61 L122.87,453.40 L124.43,454.45 L121.00,455.76 L121.62,458.90 L122.40,463.09 L123.18,466.24 L124.43,468.33 L121.62,469.38 L118.82,468.59 L117.42,471.21 L116.48,471.21 L115.08,468.59 L112.28,469.38 L109.47,468.33 L110.72,466.24 L111.50,463.09 L112.28,458.90 L112.90,455.76 L109.47,454.45 L111.03,453.40 L114.15,452.61 L113.83,450.52 L114.77,447.63 Z" fill="#a4a4a4" filter="url(#bl08)"/>
<path d="M116.95,447.57 L118.72,448.54 L119.47,451.19 L119.22,453.12 L121.74,453.84 L123.00,454.80 L120.23,456.01 L120.73,458.90 L121.36,462.76 L122.00,465.65 L123.00,467.58 L120.73,468.54 L118.46,467.82 L117.33,470.23 L116.57,470.23 L115.44,467.82 L113.17,468.54 L110.90,467.58 L111.90,465.65 L112.54,462.76 L113.17,458.90 L113.67,456.01 L110.90,454.80 L112.16,453.84 L114.68,453.12 L114.43,451.19 L115.18,448.54 Z" fill="#e4e4e4" filter="url(#bl1)"/>
<clipPath id="mc4"><path d="M116.95,446.96 L119.07,447.97 L119.97,450.77 L119.67,452.80 L122.69,453.56 L124.20,454.58 L120.88,455.85 L121.48,458.90 L122.24,462.97 L123.00,466.02 L124.20,468.05 L121.48,469.07 L118.76,468.30 L117.40,470.84 L116.50,470.84 L115.14,468.30 L112.42,469.07 L109.70,468.05 L110.90,466.02 L111.66,462.97 L112.42,458.90 L113.02,455.85 L109.70,454.58 L111.21,453.56 L114.23,452.80 L113.93,450.77 L114.83,447.97 Z"/></clipPath>
<g clip-path="url(#mc4)" filter="url(#bl05)">
<path d="M116.95,448.24 L118.73,449.14 L119.50,451.62 L119.24,453.42 L121.79,454.09 L123.06,455.00 L120.26,456.12 L120.77,458.83 L121.41,462.43 L122.04,465.14 L123.06,466.94 L120.77,467.84 L118.48,467.16 L117.33,469.42 L116.57,469.42 L115.42,467.16 L113.13,467.84 L110.84,466.94 L111.86,465.14 L112.49,462.43 L113.13,458.83 L113.64,456.12 L110.84,455.00 L112.11,454.09 L114.66,453.42 L114.40,451.62 L115.17,449.14 Z" fill="#3a36cc"/>
<ellipse cx="116.95" cy="460.21" rx="2.02" ry="5.39" fill="#2fb4e6"/>
<ellipse cx="116.95" cy="460.21" rx="0.82" ry="4.19" fill="#3cbf4c"/>
</g>
<rect x="212.5" y="445.8" width="16.4" height="26.2" fill="#1e1e1e"/>
<path d="M220.70,446.59 L223.27,447.63 L224.37,450.52 L224.01,452.61 L227.68,453.40 L229.52,454.45 L225.48,455.76 L226.21,458.90 L227.13,463.09 L228.05,466.24 L229.52,468.33 L226.21,469.38 L222.90,468.59 L221.25,471.21 L220.15,471.21 L218.50,468.59 L215.19,469.38 L211.88,468.33 L213.35,466.24 L214.27,463.09 L215.19,458.90 L215.92,455.76 L211.88,454.45 L213.72,453.40 L217.39,452.61 L217.03,450.52 L218.13,447.63 Z" fill="#a4a4a4" filter="url(#bl08)"/>
<path d="M220.70,447.57 L222.78,448.54 L223.67,451.19 L223.38,453.12 L226.35,453.84 L227.84,454.80 L224.57,456.01 L225.16,458.90 L225.90,462.76 L226.65,465.65 L227.84,467.58 L225.16,468.54 L222.48,467.82 L221.15,470.23 L220.25,470.23 L218.92,467.82 L216.24,468.54 L213.56,467.58 L214.75,465.65 L215.50,462.76 L216.24,458.90 L216.83,456.01 L213.56,454.80 L215.05,453.84 L218.02,453.12 L217.73,451.19 L218.62,448.54 Z" fill="#e4e4e4" filter="url(#bl1)"/>
<rect x="34.25" y="475.8" width="16.4" height="26.2" fill="#1e1e1e"/>
<path d="M42.45,476.59 L44.63,477.63 L45.57,480.52 L45.25,482.61 L48.37,483.40 L49.93,484.45 L46.50,485.76 L47.12,488.90 L47.90,493.09 L48.68,496.24 L49.93,498.33 L47.12,499.38 L44.32,498.59 L42.92,501.21 L41.98,501.21 L40.58,498.59 L37.78,499.38 L34.97,498.33 L36.22,496.24 L37.00,493.09 L37.78,488.90 L38.40,485.76 L34.97,484.45 L36.53,483.40 L39.65,482.61 L39.33,480.52 L40.27,477.63 Z" fill="#a4a4a4" filter="url(#bl08)"/>
<path d="M42.45,477.57 L44.22,478.54 L44.97,481.19 L44.72,483.12 L47.24,483.84 L48.50,484.80 L45.73,486.01 L46.23,488.90 L46.86,492.76 L47.50,495.65 L48.50,497.58 L46.23,498.54 L43.96,497.82 L42.83,500.23 L42.07,500.23 L40.94,497.82 L38.67,498.54 L36.40,497.58 L37.40,495.65 L38.04,492.76 L38.67,488.90 L39.17,486.01 L36.40,484.80 L37.66,483.84 L40.18,483.12 L39.93,481.19 L40.68,478.54 Z" fill="#e4e4e4" filter="url(#bl1)"/>
<clipPath id="mc5"><path d="M42.45,476.96 L44.57,477.97 L45.47,480.77 L45.17,482.80 L48.19,483.56 L49.70,484.58 L46.38,485.85 L46.98,488.90 L47.74,492.97 L48.50,496.02 L49.70,498.05 L46.98,499.07 L44.26,498.30 L42.90,500.84 L42.00,500.84 L40.64,498.30 L37.92,499.07 L35.20,498.05 L36.40,496.02 L37.16,492.97 L37.92,488.90 L38.52,485.85 L35.20,484.58 L36.71,483.56 L39.73,482.80 L39.43,480.77 L40.33,477.97 Z"/></clipPath>
<g clip-path="url(#mc5)" filter="url(#bl05)">
<path d="M42.45,478.24 L44.23,479.14 L45.00,481.62 L44.74,483.42 L47.29,484.09 L48.56,485.00 L45.76,486.12 L46.27,488.83 L46.91,492.43 L47.54,495.14 L48.56,496.94 L46.27,497.84 L43.98,497.16 L42.83,499.42 L42.07,499.42 L40.92,497.16 L38.63,497.84 L36.34,496.94 L37.36,495.14 L37.99,492.43 L38.63,488.83 L39.14,486.12 L36.34,485.00 L37.61,484.09 L40.16,483.42 L39.90,481.62 L40.67,479.14 Z" fill="#3a36cc"/>
<ellipse cx="41.30" cy="490.47" rx="4.91" ry="7.01" fill="#2fb4e6"/>
<ellipse cx="42.78" cy="485.76" rx="4.42" ry="4.91" fill="#2fb4e6"/>
<ellipse cx="41.30" cy="490.47" rx="3.71" ry="5.81" fill="#3cbf4c"/>
<ellipse cx="42.78" cy="485.76" rx="3.22" ry="3.71" fill="#3cbf4c"/>
<ellipse cx="41.30" cy="490.47" rx="2.51" ry="4.61" fill="#e6dc2c"/>
<ellipse cx="42.78" cy="485.76" rx="2.02" ry="2.51" fill="#e6dc2c"/>
<ellipse cx="41.30" cy="490.47" rx="1.31" ry="3.41" fill="#e01212"/>
<ellipse cx="42.78" cy="485.76" rx="0.82" ry="1.31" fill="#e01212"/>
</g>
<rect x="137" y="475.8" width="16.4" height="26.2" fill="#1e1e1e"/>
<path d="M145.20,476.59 L147.77,477.63 L148.87,480.52 L148.51,482.61 L152.18,483.40 L154.02,484.45 L149.98,485.76 L150.71,488.90 L151.63,493.09 L152.55,496.24 L154.02,498.33 L150.71,499.38 L147.40,498.59 L145.75,501.21 L144.65,501.21 L143.00,498.59 L139.69,499.38 L136.38,498.33 L137.85,496.24 L138.77,493.09 L139.69,488.90 L140.42,485.76 L136.38,484.45 L138.22,483.40 L141.89,482.61 L141.53,480.52 L142.63,477.63 Z" fill="#a4a4a4" filter="url(#bl08)"/>
<path d="M145.20,477.57 L147.28,478.54 L148.17,481.19 L147.88,483.12 L150.85,483.84 L152.34,484.80 L149.07,486.01 L149.66,488.90 L150.40,492.76 L151.15,495.65 L152.34,497.58 L149.66,498.54 L146.98,497.82 L145.65,500.23 L144.75,500.23 L143.42,497.82 L140.74,498.54 L138.06,497.58 L139.25,495.65 L140.00,492.76 L140.74,488.90 L141.33,486.01 L138.06,484.80 L139.55,483.84 L142.52,483.12 L142.23,481.19 L143.12,478.54 Z" fill="#e4e4e4" filter="url(#bl1)"/>
<ellipse cx="143.2" cy="487.59000000000003" rx="1.4" ry="2" fill="#5040c0"/>
<ellipse cx="144.2" cy="494.14" rx="1.2" ry="1.6" fill="#5040c0"/>
<rect x="52.5" y="475.8" width="16.4" height="26.2" fill="#1e1e1e"/>
<path d="M60.70,476.59 L62.88,477.63 L63.82,480.52 L63.50,482.61 L66.62,483.40 L68.18,484.45 L64.75,485.76 L65.37,488.90 L66.15,493.09 L66.93,496.24 L68.18,498.33 L65.37,499.38 L62.57,498.59 L61.17,501.21 L60.23,501.21 L58.83,498.59 L56.03,499.38 L53.22,498.33 L54.47,496.24 L55.25,493.09 L56.03,488.90 L56.65,485.76 L53.22,484.45 L54.78,483.40 L57.90,482.61 L57.58,480.52 L58.52,477.63 Z" fill="#a4a4a4" filter="url(#bl08)"/>
<path d="M60.70,477.57 L62.47,478.54 L63.22,481.19 L62.97,483.12 L65.49,483.84 L66.75,484.80 L63.98,486.01 L64.48,488.90 L65.11,492.76 L65.75,495.65 L66.75,497.58 L64.48,498.54 L62.21,497.82 L61.08,500.23 L60.32,500.23 L59.19,497.82 L56.92,498.54 L54.65,497.58 L55.65,495.65 L56.29,492.76 L56.92,488.90 L57.42,486.01 L54.65,484.80 L55.91,483.84 L58.43,483.12 L58.18,481.19 L58.93,478.54 Z" fill="#e4e4e4" filter="url(#bl1)"/>
<clipPath id="mc6"><path d="M60.70,476.96 L62.82,477.97 L63.72,480.77 L63.42,482.80 L66.44,483.56 L67.95,484.58 L64.63,485.85 L65.23,488.90 L65.99,492.97 L66.75,496.02 L67.95,498.05 L65.23,499.07 L62.51,498.30 L61.15,500.84 L60.25,500.84 L58.89,498.30 L56.17,499.07 L53.45,498.05 L54.65,496.02 L55.41,492.97 L56.17,488.90 L56.77,485.85 L53.45,484.58 L54.96,483.56 L57.98,482.80 L57.68,480.77 L58.58,477.97 Z"/></clipPath>
<g clip-path="url(#mc6)" filter="url(#bl05)">
<path d="M60.70,478.24 L62.48,479.14 L63.25,481.62 L62.99,483.42 L65.54,484.09 L66.81,485.00 L64.01,486.12 L64.52,488.83 L65.16,492.43 L65.79,495.14 L66.81,496.94 L64.52,497.84 L62.23,497.16 L61.08,499.42 L60.32,499.42 L59.17,497.16 L56.88,497.84 L54.59,496.94 L55.61,495.14 L56.24,492.43 L56.88,488.83 L57.39,486.12 L54.59,485.00 L55.86,484.09 L58.41,483.42 L58.15,481.62 L58.92,479.14 Z" fill="#3a36cc"/>
<ellipse cx="60.70" cy="488.90" rx="6.22" ry="9.36" fill="#2fb4e6"/>
<ellipse cx="59.39" cy="483.66" rx="5.08" ry="5.70" fill="#2fb4e6"/>
<ellipse cx="60.70" cy="488.90" rx="5.02" ry="8.16" fill="#3cbf4c"/>
<ellipse cx="59.39" cy="483.66" rx="3.88" ry="4.50" fill="#3cbf4c"/>
<ellipse cx="60.70" cy="488.90" rx="3.82" ry="6.96" fill="#e6dc2c"/>
<ellipse cx="59.39" cy="483.66" rx="2.68" ry="3.30" fill="#e6dc2c"/>
<ellipse cx="60.70" cy="488.90" rx="2.62" ry="5.76" fill="#e01212"/>
<ellipse cx="59.39" cy="483.66" rx="1.48" ry="2.10" fill="#e01212"/>
</g>
<rect x="155" y="475.8" width="16.4" height="26.2" fill="#1e1e1e"/>
<path d="M163.20,476.59 L165.77,477.63 L166.87,480.52 L166.51,482.61 L170.18,483.40 L172.02,484.45 L167.98,485.76 L168.71,488.90 L169.63,493.09 L170.55,496.24 L172.02,498.33 L168.71,499.38 L165.40,498.59 L163.75,501.21 L162.65,501.21 L161.00,498.59 L157.69,499.38 L154.38,498.33 L155.85,496.24 L156.77,493.09 L157.69,488.90 L158.42,485.76 L154.38,484.45 L156.22,483.40 L159.89,482.61 L159.53,480.52 L160.63,477.63 Z" fill="#a4a4a4" filter="url(#bl08)"/>
<path d="M163.20,477.57 L165.28,478.54 L166.17,481.19 L165.88,483.12 L168.85,483.84 L170.34,484.80 L167.07,486.01 L167.66,488.90 L168.40,492.76 L169.15,495.65 L170.34,497.58 L167.66,498.54 L164.98,497.82 L163.65,500.23 L162.75,500.23 L161.42,497.82 L158.74,498.54 L156.06,497.58 L157.25,495.65 L158.00,492.76 L158.74,488.90 L159.33,486.01 L156.06,484.80 L157.55,483.84 L160.52,483.12 L160.23,481.19 L161.12,478.54 Z" fill="#e4e4e4" filter="url(#bl1)"/>
<ellipse cx="163.2" cy="487.59000000000003" rx="1.2" ry="1.6" fill="#4040c0"/>
<ellipse cx="163.2" cy="492.044" rx="1" ry="1.4" fill="#4040c0"/>
<rect x="71.25" y="475.8" width="16.4" height="26.2" fill="#1e1e1e"/>
<path d="M79.45,476.59 L81.63,477.63 L82.57,480.52 L82.25,482.61 L85.37,483.40 L86.93,484.45 L83.50,485.76 L84.12,488.90 L84.90,493.09 L85.68,496.24 L86.93,498.33 L84.12,499.38 L81.32,498.59 L79.92,501.21 L78.98,501.21 L77.58,498.59 L74.78,499.38 L71.97,498.33 L73.22,496.24 L74.00,493.09 L74.78,488.90 L75.40,485.76 L71.97,484.45 L73.53,483.40 L76.65,482.61 L76.33,480.52 L77.27,477.63 Z" fill="#a4a4a4" filter="url(#bl08)"/>
<path d="M79.45,477.57 L81.22,478.54 L81.97,481.19 L81.72,483.12 L84.24,483.84 L85.50,484.80 L82.73,486.01 L83.23,488.90 L83.86,492.76 L84.50,495.65 L85.50,497.58 L83.23,498.54 L80.96,497.82 L79.83,500.23 L79.07,500.23 L77.94,497.82 L75.67,498.54 L73.40,497.58 L74.40,495.65 L75.04,492.76 L75.67,488.90 L76.17,486.01 L73.40,484.80 L74.66,483.84 L77.18,483.12 L76.93,481.19 L77.68,478.54 Z" fill="#e4e4e4" filter="url(#bl1)"/>
<clipPath id="mc7"><path d="M79.45,476.96 L81.57,477.97 L82.47,480.77 L82.17,482.80 L85.19,483.56 L86.70,484.58 L83.38,485.85 L83.98,488.90 L84.74,492.97 L85.50,496.02 L86.70,498.05 L83.98,499.07 L81.26,498.30 L79.90,500.84 L79.00,500.84 L77.64,498.30 L74.92,499.07 L72.20,498.05 L73.40,496.02 L74.16,492.97 L74.92,488.90 L75.52,485.85 L72.20,484.58 L73.71,483.56 L76.73,482.80 L76.43,480.77 L77.33,477.97 Z"/></clipPath>
<g clip-path="url(#mc7)" filter="url(#bl05)">
<path d="M79.45,478.24 L81.23,479.14 L82.00,481.62 L81.74,483.42 L84.29,484.09 L85.56,485.00 L82.76,486.12 L83.27,488.83 L83.91,492.43 L84.54,495.14 L85.56,496.94 L83.27,497.84 L80.98,497.16 L79.83,499.42 L79.07,499.42 L77.92,497.16 L75.63,497.84 L73.34,496.94 L74.36,495.14 L74.99,492.43 L75.63,488.83 L76.14,486.12 L73.34,485.00 L74.61,484.09 L77.16,483.42 L76.90,481.62 L77.67,479.14 Z" fill="#3a36cc"/>
<ellipse cx="79.45" cy="483.14" rx="4.58" ry="4.78" fill="#2fb4e6"/>
<ellipse cx="79.78" cy="489.42" rx="4.75" ry="5.96" fill="#2fb4e6"/>
<ellipse cx="78.63" cy="494.66" rx="4.42" ry="4.78" fill="#2fb4e6"/>
<ellipse cx="79.45" cy="483.14" rx="3.38" ry="3.58" fill="#3cbf4c"/>
<ellipse cx="79.78" cy="489.42" rx="3.55" ry="4.76" fill="#3cbf4c"/>
<ellipse cx="78.63" cy="494.66" rx="3.22" ry="3.58" fill="#3cbf4c"/>
<ellipse cx="79.45" cy="483.14" rx="2.18" ry="2.38" fill="#e6dc2c"/>
<ellipse cx="79.78" cy="489.42" rx="2.35" ry="3.56" fill="#e6dc2c"/>
<ellipse cx="78.63" cy="494.66" rx="2.02" ry="2.38" fill="#e6dc2c"/>
<ellipse cx="79.45" cy="483.14" rx="0.98" ry="1.18" fill="#e01212"/>
<ellipse cx="79.78" cy="489.42" rx="1.15" ry="2.36" fill="#e01212"/>
<ellipse cx="78.63" cy="494.66" rx="0.82" ry="1.18" fill="#e01212"/>
</g>
<rect x="174.25" y="475.8" width="16.4" height="26.2" fill="#1e1e1e"/>
<path d="M182.45,476.59 L185.02,477.63 L186.12,480.52 L185.76,482.61 L189.43,483.40 L191.27,484.45 L187.23,485.76 L187.96,488.90 L188.88,493.09 L189.80,496.24 L191.27,498.33 L187.96,499.38 L184.65,498.59 L183.00,501.21 L181.90,501.21 L180.25,498.59 L176.94,499.38 L173.63,498.33 L175.10,496.24 L176.02,493.09 L176.94,488.90 L177.67,485.76 L173.63,484.45 L175.47,483.40 L179.14,482.61 L178.78,480.52 L179.88,477.63 Z" fill="#a4a4a4" filter="url(#bl08)"/>
<path d="M182.45,477.57 L184.53,478.54 L185.42,481.19 L185.13,483.12 L188.10,483.84 L189.59,484.80 L186.32,486.01 L186.91,488.90 L187.65,492.76 L188.40,495.65 L189.59,497.58 L186.91,498.54 L184.23,497.82 L182.90,500.23 L182.00,500.23 L180.67,497.82 L177.99,498.54 L175.31,497.58 L176.50,495.65 L177.25,492.76 L177.99,488.90 L178.58,486.01 L175.31,484.80 L176.80,483.84 L179.77,483.12 L179.48,481.19 L180.37,478.54 Z" fill="#e4e4e4" filter="url(#bl1)"/>
<clipPath id="mc8"><path d="M182.45,476.96 L184.74,477.97 L185.73,480.77 L185.40,482.80 L188.68,483.56 L190.32,484.58 L186.71,485.85 L187.37,488.90 L188.19,492.97 L189.01,496.02 L190.32,498.05 L187.37,499.07 L184.42,498.30 L182.94,500.84 L181.96,500.84 L180.48,498.30 L177.53,499.07 L174.58,498.05 L175.89,496.02 L176.71,492.97 L177.53,488.90 L178.19,485.85 L174.58,484.58 L176.22,483.56 L179.50,482.80 L179.17,480.77 L180.16,477.97 Z"/></clipPath>
<g clip-path="url(#mc8)" filter="url(#bl05)">
<path d="M182.45,478.24 L184.38,479.14 L185.21,481.62 L184.94,483.42 L187.70,484.09 L189.08,485.00 L186.04,486.12 L186.59,488.83 L187.28,492.43 L187.97,495.14 L189.08,496.94 L186.59,497.84 L184.11,497.16 L182.86,499.42 L182.04,499.42 L180.79,497.16 L178.31,497.84 L175.82,496.94 L176.93,495.14 L177.62,492.43 L178.31,488.83 L178.86,486.12 L175.82,485.00 L177.20,484.09 L179.96,483.42 L179.69,481.62 L180.52,479.14 Z" fill="#3a36cc"/>
<ellipse cx="182.45" cy="488.90" rx="0.49" ry="1.05" fill="#2fb4e6"/>
</g>
<rect x="90" y="475.8" width="16.4" height="26.2" fill="#1e1e1e"/>
<path d="M98.20,476.59 L100.38,477.63 L101.32,480.52 L101.00,482.61 L104.12,483.40 L105.68,484.45 L102.25,485.76 L102.87,488.90 L103.65,493.09 L104.43,496.24 L105.68,498.33 L102.87,499.38 L100.07,498.59 L98.67,501.21 L97.73,501.21 L96.33,498.59 L93.53,499.38 L90.72,498.33 L91.97,496.24 L92.75,493.09 L93.53,488.90 L94.15,485.76 L90.72,484.45 L92.28,483.40 L95.40,482.61 L95.08,480.52 L96.02,477.63 Z" fill="#a4a4a4" filter="url(#bl08)"/>
<path d="M98.20,477.57 L99.97,478.54 L100.72,481.19 L100.47,483.12 L102.99,483.84 L104.25,484.80 L101.48,486.01 L101.98,488.90 L102.61,492.76 L103.25,495.65 L104.25,497.58 L101.98,498.54 L99.71,497.82 L98.58,500.23 L97.82,500.23 L96.69,497.82 L94.42,498.54 L92.15,497.58 L93.15,495.65 L93.79,492.76 L94.42,488.90 L94.92,486.01 L92.15,484.80 L93.41,483.84 L95.93,483.12 L95.68,481.19 L96.43,478.54 Z" fill="#e4e4e4" filter="url(#bl1)"/>
<clipPath id="mc9"><path d="M98.20,476.96 L100.32,477.97 L101.22,480.77 L100.92,482.80 L103.94,483.56 L105.45,484.58 L102.13,485.85 L102.73,488.90 L103.49,492.97 L104.25,496.02 L105.45,498.05 L102.73,499.07 L100.01,498.30 L98.65,500.84 L97.75,500.84 L96.39,498.30 L93.67,499.07 L90.95,498.05 L92.15,496.02 L92.91,492.97 L93.67,488.90 L94.27,485.85 L90.95,484.58 L92.46,483.56 L95.48,482.80 L95.18,480.77 L96.08,477.97 Z"/></clipPath>
<g clip-path="url(#mc9)" filter="url(#bl05)">
<path d="M98.20,478.24 L99.98,479.14 L100.75,481.62 L100.49,483.42 L103.04,484.09 L104.31,485.00 L101.51,486.12 L102.02,488.83 L102.66,492.43 L103.29,495.14 L104.31,496.94 L102.02,497.84 L99.73,497.16 L98.58,499.42 L97.82,499.42 L96.67,497.16 L94.38,497.84 L92.09,496.94 L93.11,495.14 L93.74,492.43 L94.38,488.83 L94.89,486.12 L92.09,485.00 L93.36,484.09 L95.91,483.42 L95.65,481.62 L96.42,479.14 Z" fill="#3a36cc"/>
<ellipse cx="98.20" cy="491.52" rx="6.72" ry="8.84" fill="#2fb4e6"/>
<ellipse cx="98.20" cy="491.52" rx="5.52" ry="7.64" fill="#3cbf4c"/>
<ellipse cx="98.20" cy="491.52" rx="4.32" ry="6.44" fill="#e6dc2c"/>
<ellipse cx="98.20" cy="491.52" rx="3.12" ry="5.24" fill="#e01212"/>
</g>
<rect x="193.25" y="475.8" width="16.4" height="26.2" fill="#1e1e1e"/>
<path d="M201.45,476.59 L204.02,477.63 L205.12,480.52 L204.76,482.61 L208.43,483.40 L210.27,484.45 L206.23,485.76 L206.96,488.90 L207.88,493.09 L208.80,496.24 L210.27,498.33 L206.96,499.38 L203.65,498.59 L202.00,501.21 L200.90,501.21 L199.25,498.59 L195.94,499.38 L192.63,498.33 L194.10,496.24 L195.02,493.09 L195.94,488.90 L196.67,485.76 L192.63,484.45 L194.47,483.40 L198.14,482.61 L197.78,480.52 L198.88,477.63 Z" fill="#a4a4a4" filter="url(#bl08)"/>
<path d="M201.45,477.57 L203.53,478.54 L204.42,481.19 L204.13,483.12 L207.10,483.84 L208.59,484.80 L205.32,486.01 L205.91,488.90 L206.65,492.76 L207.40,495.65 L208.59,497.58 L205.91,498.54 L203.23,497.82 L201.90,500.23 L201.00,500.23 L199.67,497.82 L196.99,498.54 L194.31,497.58 L195.50,495.65 L196.25,492.76 L196.99,488.90 L197.58,486.01 L194.31,484.80 L195.80,483.84 L198.77,483.12 L198.48,481.19 L199.37,478.54 Z" fill="#e4e4e4" filter="url(#bl1)"/>
<clipPath id="mc10"><path d="M201.45,476.96 L203.69,477.97 L204.66,480.77 L204.34,482.80 L207.54,483.56 L209.15,484.58 L205.62,485.85 L206.26,488.90 L207.06,492.97 L207.86,496.02 L209.15,498.05 L206.26,499.07 L203.37,498.30 L201.93,500.84 L200.97,500.84 L199.53,498.30 L196.64,499.07 L193.75,498.05 L195.04,496.02 L195.84,492.97 L196.64,488.90 L197.28,485.85 L193.75,484.58 L195.36,483.56 L198.56,482.80 L198.24,480.77 L199.21,477.97 Z"/></clipPath>
<g clip-path="url(#mc10)" filter="url(#bl05)">
<path d="M201.45,478.24 L203.34,479.14 L204.15,481.62 L203.88,483.42 L206.58,484.09 L207.93,485.00 L204.96,486.12 L205.50,488.83 L206.18,492.43 L206.85,495.14 L207.93,496.94 L205.50,497.84 L203.07,497.16 L201.86,499.42 L201.04,499.42 L199.83,497.16 L197.40,497.84 L194.97,496.94 L196.05,495.14 L196.72,492.43 L197.40,488.83 L197.94,486.12 L194.97,485.00 L196.32,484.09 L199.02,483.42 L198.75,481.62 L199.56,479.14 Z" fill="#3a36cc"/>
<ellipse cx="201.45" cy="483.66" rx="1.86" ry="2.51" fill="#2fb4e6"/>
<ellipse cx="201.45" cy="490.21" rx="2.18" ry="2.77" fill="#2fb4e6"/>
<ellipse cx="201.45" cy="483.66" rx="0.66" ry="1.31" fill="#3cbf4c"/>
<ellipse cx="201.45" cy="490.21" rx="0.98" ry="1.57" fill="#3cbf4c"/>
</g>
<rect x="108.75" y="475.8" width="16.4" height="26.2" fill="#1e1e1e"/>
<path d="M116.95,476.59 L119.13,477.63 L120.07,480.52 L119.75,482.61 L122.87,483.40 L124.43,484.45 L121.00,485.76 L121.62,488.90 L122.40,493.09 L123.18,496.24 L124.43,498.33 L121.62,499.38 L118.82,498.59 L117.42,501.21 L116.48,501.21 L115.08,498.59 L112.28,499.38 L109.47,498.33 L110.72,496.24 L111.50,493.09 L112.28,488.90 L112.90,485.76 L109.47,484.45 L111.03,483.40 L114.15,482.61 L113.83,480.52 L114.77,477.63 Z" fill="#a4a4a4" filter="url(#bl08)"/>
<path d="M116.95,477.57 L118.72,478.54 L119.47,481.19 L119.22,483.12 L121.74,483.84 L123.00,484.80 L120.23,486.01 L120.73,488.90 L121.36,492.76 L122.00,495.65 L123.00,497.58 L120.73,498.54 L118.46,497.82 L117.33,500.23 L116.57,500.23 L115.44,497.82 L113.17,498.54 L110.90,497.58 L111.90,495.65 L112.54,492.76 L113.17,488.90 L113.67,486.01 L110.90,484.80 L112.16,483.84 L114.68,483.12 L114.43,481.19 L115.18,478.54 Z" fill="#e4e4e4" filter="url(#bl1)"/>
<clipPath id="mc11"><path d="M116.95,476.96 L119.07,477.97 L119.97,480.77 L119.67,482.80 L122.69,483.56 L124.20,484.58 L120.88,485.85 L121.48,488.90 L122.24,492.97 L123.00,496.02 L124.20,498.05 L121.48,499.07 L118.76,498.30 L117.40,500.84 L116.50,500.84 L115.14,498.30 L112.42,499.07 L109.70,498.05 L110.90,496.02 L111.66,492.97 L112.42,488.90 L113.02,485.85 L109.70,484.58 L111.21,483.56 L114.23,482.80 L113.93,480.77 L114.83,477.97 Z"/></clipPath>
<g clip-path="url(#mc11)" filter="url(#bl05)">
<path d="M116.95,478.24 L118.73,479.14 L119.50,481.62 L119.24,483.42 L121.79,484.09 L123.06,485.00 L120.26,486.12 L120.77,488.83 L121.41,492.43 L122.04,495.14 L123.06,496.94 L120.77,497.84 L118.48,497.16 L117.33,499.42 L116.57,499.42 L115.42,497.16 L113.13,497.84 L110.84,496.94 L111.86,495.14 L112.49,492.43 L113.13,488.83 L113.64,486.12 L110.84,485.00 L112.11,484.09 L114.66,483.42 L114.40,481.62 L115.17,479.14 Z" fill="#3a36cc"/>
<ellipse cx="117.44" cy="491.00" rx="4.75" ry="6.48" fill="#2fb4e6"/>
<ellipse cx="117.44" cy="491.00" rx="3.55" ry="5.28" fill="#3cbf4c"/>
<ellipse cx="117.44" cy="491.00" rx="2.35" ry="4.08" fill="#e6dc2c"/>
<ellipse cx="117.44" cy="491.00" rx="1.15" ry="2.88" fill="#e01212"/>
</g>
<rect x="212.5" y="475.8" width="16.4" height="26.2" fill="#1e1e1e"/>
<path d="M220.70,476.59 L223.27,477.63 L224.37,480.52 L224.01,482.61 L227.68,483.40 L229.52,484.45 L225.48,485.76 L226.21,488.90 L227.13,493.09 L228.05,496.24 L229.52,498.33 L226.21,499.38 L222.90,498.59 L221.25,501.21 L220.15,501.21 L218.50,498.59 L215.19,499.38 L211.88,498.33 L213.35,496.24 L214.27,493.09 L215.19,488.90 L215.92,485.76 L211.88,484.45 L213.72,483.40 L217.39,482.61 L217.03,480.52 L218.13,477.63 Z" fill="#a4a4a4" filter="url(#bl08)"/>
<path d="M220.70,477.57 L222.78,478.54 L223.67,481.19 L223.38,483.12 L226.35,483.84 L227.84,484.80 L224.57,486.01 L225.16,488.90 L225.90,492.76 L226.65,495.65 L227.84,497.58 L225.16,498.54 L222.48,497.82 L221.15,500.23 L220.25,500.23 L218.92,497.82 L216.24,498.54 L213.56,497.58 L214.75,495.65 L215.50,492.76 L216.24,488.90 L216.83,486.01 L213.56,484.80 L215.05,483.84 L218.02,483.12 L217.73,481.19 L218.62,478.54 Z" fill="#e4e4e4" filter="url(#bl1)"/>
<ellipse cx="218.7" cy="487.59000000000003" rx="1.4" ry="2" fill="#5040c0"/>
<ellipse cx="219.7" cy="494.14" rx="1.2" ry="1.6" fill="#5040c0"/>
<rect x="237.1" y="412" width="1.4" height="68.5" fill="url(#cbar)" opacity="0.85"/>
<text x="236.5" y="495.8" font-size="4.57" text-anchor="start" font-weight="normal" font-style="normal" fill="#333" transform="translate(236.5 0) scale(0.92 1) translate(-236.5 0)" style="stroke:none">Radiance</text>
<text x="236.5" y="500.8" font-size="4.2" fill="#333" style="stroke:none">(p/sec/cm<tspan font-size="3" dy="-1.5">2</tspan><tspan dy="1.5">/sr)</tspan></text>
<rect x="236.2" y="505.5" width="30" height="17.8" fill="none" stroke="#333" stroke-width="0.6"/>
<text x="238" y="510.5" font-size="4.57" text-anchor="start" font-weight="normal" font-style="normal" fill="#333" transform="translate(238 0) scale(0.92 1) translate(-238 0)" style="stroke:none">Color scale</text>
<text x="238" y="515.5" font-size="4.57" text-anchor="start" font-weight="normal" font-style="normal" fill="#333" transform="translate(238 0) scale(0.92 1) translate(-238 0)" style="stroke:none">Min = 2.07e6</text>
<text x="238" y="520.5" font-size="4.57" text-anchor="start" font-weight="normal" font-style="normal" fill="#333" transform="translate(238 0) scale(0.92 1) translate(-238 0)" style="stroke:none">Max = 4.83e7</text>
<text x="280.6" y="394.5" font-size="12" text-anchor="start" font-weight="bold" font-style="normal" fill="#000">F</text>
<text x="328" y="415.5" font-size="8.7" text-anchor="middle" font-weight="normal" font-style="normal" fill="#222" transform="translate(328 0) scale(0.92 1) translate(-328 0)">Vehicle</text>
<text x="377.3" y="415.5" font-size="8.7" text-anchor="middle" font-weight="normal" font-style="normal" fill="#222" transform="translate(377.3 0) scale(0.92 1) translate(-377.3 0)">NSC12</text>
<rect x="306.6" y="418.9" width="43.9" height="1.5" fill="#444"/>
<rect x="355" y="418.9" width="43.5" height="1.5" fill="#444"/>
<line x1="305.2" y1="422.4" x2="305.2" y2="455.9" stroke="#444" stroke-width="1.2"/>
<line x1="305.2" y1="459.6" x2="305.2" y2="493.5" stroke="#444" stroke-width="1.2"/>
<text x="300" y="439.2" font-size="8" text-anchor="middle" font-weight="normal" font-style="normal" fill="#222" transform="rotate(-90 300 439.2)">H.E.</text>
<text x="300" y="476.5" font-size="8" text-anchor="middle" font-weight="normal" font-style="normal" fill="#222" transform="rotate(-90 300 476.5)">hCD20</text>
<rect x="306.2" y="422.4" width="45" height="33.5" fill="#000" filter="url(#nHEV)"/>
<path d="M306.2,422.4 L351.2,422.4 L351.2,431 L306.2,425.6 Z" fill="#b87aaa" filter="url(#bl05)"/>
<path d="M306.2,426.2 L351.2,431.8" stroke="#f0e8f0" stroke-width="0.9"/>
<path d="M337,429.5 L336.5,434" stroke="#f0e8f0" stroke-width="1"/>
<circle cx="337" cy="452" r="1.4" fill="#f4eef4"/>
<circle cx="346" cy="447" r="0.8" fill="#f4eef4"/>
<circle cx="339" cy="444" r="0.7" fill="#f4eef4"/>
<circle cx="349" cy="441" r="0.6" fill="#f4eef4"/>
<circle cx="330" cy="440" r="0.6" fill="#f4eef4"/>
<rect x="355.1" y="422.4" width="43.9" height="33.5" fill="#000" filter="url(#nHEN)"/>
<g filter="url(#bl05)" fill="#b07aa2" opacity="0.92"><path d="M355.1,433.5 L361,431 L377,441 L399,447.5 L399,452 L384,449.5 L368,443.5 L355.1,438.5 Z"/><path d="M375,425.5 L389,425 L399,431 L399,437 L389,434 L380,430 Z"/><path d="M355.1,449 L368,453 L372,455.9 L355.1,455.9 Z"/><path d="M383,440 L392,441 L396,444 L388,444 Z"/></g>
<g stroke="#f2eaf2" stroke-width="0.8" fill="none"><path d="M357,428 L362,424"/><path d="M368,436 L372,444 L378,441"/><path d="M385,430 L390,438 L396,433"/><path d="M356,452 L362,448"/><path d="M392,424 L398,428"/></g>
<path d="M355.1,428 L358,424 L361,431 Z" fill="#f2eaf2"/>
<rect x="306.2" y="459.6" width="45" height="33.9" fill="#000" filter="url(#nCDV)"/>
<ellipse cx="314" cy="462.5" rx="2.2" ry="0.9" fill="#efe6c8" filter="url(#bl05)"/>
<ellipse cx="322" cy="473.5" rx="1.6" ry="0.8" fill="#efe6c8" filter="url(#bl05)"/>
<ellipse cx="329" cy="465" rx="1.4" ry="0.8" fill="#efe6c8" filter="url(#bl05)"/>
<ellipse cx="335" cy="466" rx="1.5" ry="0.8" fill="#efe6c8" filter="url(#bl05)"/>
<ellipse cx="318" cy="479" rx="1.2" ry="0.7" fill="#efe6c8" filter="url(#bl05)"/>
<ellipse cx="343" cy="470" rx="1.2" ry="0.6" fill="#efe6c8" filter="url(#bl05)"/>
<ellipse cx="310" cy="467" rx="1" ry="0.6" fill="#efe6c8" filter="url(#bl05)"/>
<rect x="355.1" y="459.6" width="43.9" height="33.9" fill="#000" filter="url(#nCDN)"/>
<g fill="#eceef6" filter="url(#bl05)" opacity="0.95"><path d="M355.1,463 L358,461 L360,468 L355.1,470 Z"/><path d="M370,479 L373,472 L376,474 L376,484 L372,488 Z"/><path d="M380,462 L388,460 L392,466 L385,467 Z"/><path d="M356,486 L360,484 L362,492 L356,493 Z"/></g>
<ellipse cx="378.5" cy="478" rx="2" ry="3" fill="#5a6290" filter="url(#bl05)"/>
<rect x="306.5" y="422.7" width="44.4" height="32.9" fill="none" stroke="#333" stroke-width="0.6"/>
<rect x="355.40000000000003" y="422.7" width="43.3" height="32.9" fill="none" stroke="#333" stroke-width="0.6"/>
<rect x="306.5" y="459.90000000000003" width="44.4" height="33.3" fill="none" stroke="#333" stroke-width="0.6"/>
<rect x="355.40000000000003" y="459.90000000000003" width="43.3" height="33.3" fill="none" stroke="#333" stroke-width="0.6"/>
<text x="6.5" y="542.2" font-size="12" text-anchor="start" font-weight="bold" font-style="normal" fill="#000">G</text>
<line x1="61.8" y1="560" x2="61.8" y2="627.4" stroke="#1a1a1a" stroke-width="1.0"/>
<line x1="61.8" y1="626.9" x2="158" y2="626.9" stroke="#1a1a1a" stroke-width="1.0"/>
<line x1="58.8" y1="562.8" x2="61.8" y2="562.8" stroke="#1a1a1a" stroke-width="1.0"/>
<text x="57.3" y="565.6999999999999" font-size="8.7" text-anchor="end" font-weight="normal" font-style="normal" fill="#222" transform="translate(57.3 0) scale(0.92 1) translate(-57.3 0)">1.5</text>
<line x1="58.8" y1="584.2" x2="61.8" y2="584.2" stroke="#1a1a1a" stroke-width="1.0"/>
<text x="57.3" y="587.1" font-size="8.7" text-anchor="end" font-weight="normal" font-style="normal" fill="#222" transform="translate(57.3 0) scale(0.92 1) translate(-57.3 0)">1.0</text>
<line x1="58.8" y1="605.7" x2="61.8" y2="605.7" stroke="#1a1a1a" stroke-width="1.0"/>
<text x="57.3" y="608.6" font-size="8.7" text-anchor="end" font-weight="normal" font-style="normal" fill="#222" transform="translate(57.3 0) scale(0.92 1) translate(-57.3 0)">0.5</text>
<line x1="58.8" y1="626.9" x2="61.8" y2="626.9" stroke="#1a1a1a" stroke-width="1.0"/>
<text x="57.3" y="629.8" font-size="8.7" text-anchor="end" font-weight="normal" font-style="normal" fill="#222" transform="translate(57.3 0) scale(0.92 1) translate(-57.3 0)">0.0</text>
<rect x="63.9" y="584.2" width="4.699999999999996" height="42.69999999999993" fill="#a8002c"/>
<line x1="66.25" y1="580.8" x2="66.25" y2="584.2" stroke="#1a1a1a" stroke-width="1.0"/>
<line x1="65.075" y1="580.8" x2="67.425" y2="580.8" stroke="#1a1a1a" stroke-width="1.0"/>
<line x1="66.25" y1="626.9" x2="66.25" y2="629.5" stroke="#1a1a1a" stroke-width="0.9"/>
<rect x="71.8" y="576.6" width="4.700000000000003" height="50.299999999999955" fill="#a8002c"/>
<line x1="74.15" y1="568.8" x2="74.15" y2="576.6" stroke="#1a1a1a" stroke-width="1.0"/>
<line x1="72.97500000000001" y1="568.8" x2="75.325" y2="568.8" stroke="#1a1a1a" stroke-width="1.0"/>
<line x1="74.14999999999999" y1="626.9" x2="74.14999999999999" y2="629.5" stroke="#1a1a1a" stroke-width="0.9"/>
<rect x="79.8" y="586" width="4.700000000000003" height="40.89999999999998" fill="#a8002c"/>
<line x1="82.15" y1="585" x2="82.15" y2="586" stroke="#1a1a1a" stroke-width="1.0"/>
<line x1="80.97500000000001" y1="585" x2="83.325" y2="585" stroke="#1a1a1a" stroke-width="1.0"/>
<line x1="82.14999999999999" y1="626.9" x2="82.14999999999999" y2="629.5" stroke="#1a1a1a" stroke-width="0.9"/>
<rect x="87.9" y="583" width="4.700000000000003" height="43.89999999999998" fill="#a8002c"/>
<line x1="90.25" y1="579.6" x2="90.25" y2="583" stroke="#1a1a1a" stroke-width="1.0"/>
<line x1="89.075" y1="579.6" x2="91.425" y2="579.6" stroke="#1a1a1a" stroke-width="1.0"/>
<line x1="90.25" y1="626.9" x2="90.25" y2="629.5" stroke="#1a1a1a" stroke-width="0.9"/>
<rect x="95.8" y="576.4" width="4.700000000000003" height="50.5" fill="#a8002c"/>
<line x1="98.15" y1="575.5" x2="98.15" y2="576.4" stroke="#1a1a1a" stroke-width="1.0"/>
<line x1="96.97500000000001" y1="575.5" x2="99.325" y2="575.5" stroke="#1a1a1a" stroke-width="1.0"/>
<line x1="98.14999999999999" y1="626.9" x2="98.14999999999999" y2="629.5" stroke="#1a1a1a" stroke-width="0.9"/>
<rect x="103.9" y="587" width="4.700000000000003" height="39.89999999999998" fill="#a8002c"/>
<line x1="106.25" y1="585.5" x2="106.25" y2="587" stroke="#1a1a1a" stroke-width="1.0"/>
<line x1="105.075" y1="585.5" x2="107.425" y2="585.5" stroke="#1a1a1a" stroke-width="1.0"/>
<line x1="106.25" y1="626.9" x2="106.25" y2="629.5" stroke="#1a1a1a" stroke-width="0.9"/>
<rect x="111.9" y="606.3" width="4.700000000000003" height="20.600000000000023" fill="#a8002c"/>
<line x1="114.25" y1="602.5" x2="114.25" y2="606.3" stroke="#1a1a1a" stroke-width="1.0"/>
<line x1="113.075" y1="602.5" x2="115.425" y2="602.5" stroke="#1a1a1a" stroke-width="1.0"/>
<line x1="114.25" y1="626.9" x2="114.25" y2="629.5" stroke="#1a1a1a" stroke-width="0.9"/>
<rect x="120" y="592.3" width="4.700000000000003" height="34.60000000000002" fill="#a8002c"/>
<line x1="122.35" y1="588.7" x2="122.35" y2="592.3" stroke="#1a1a1a" stroke-width="1.0"/>
<line x1="121.175" y1="588.7" x2="123.52499999999999" y2="588.7" stroke="#1a1a1a" stroke-width="1.0"/>
<line x1="122.35" y1="626.9" x2="122.35" y2="629.5" stroke="#1a1a1a" stroke-width="0.9"/>
<rect x="127.9" y="599" width="4.699999999999989" height="27.899999999999977" fill="#a8002c"/>
<line x1="130.25" y1="595.8" x2="130.25" y2="599" stroke="#1a1a1a" stroke-width="1.0"/>
<line x1="129.075" y1="595.8" x2="131.425" y2="595.8" stroke="#1a1a1a" stroke-width="1.0"/>
<line x1="130.25" y1="626.9" x2="130.25" y2="629.5" stroke="#1a1a1a" stroke-width="0.9"/>
<rect x="136" y="608.8" width="4.699999999999989" height="18.100000000000023" fill="#a8002c"/>
<line x1="138.35" y1="606.3" x2="138.35" y2="608.8" stroke="#1a1a1a" stroke-width="1.0"/>
<line x1="137.175" y1="606.3" x2="139.52499999999998" y2="606.3" stroke="#1a1a1a" stroke-width="1.0"/>
<line x1="138.35" y1="626.9" x2="138.35" y2="629.5" stroke="#1a1a1a" stroke-width="0.9"/>
<rect x="143.8" y="623.3" width="4.699999999999989" height="3.6000000000000227" fill="#a8002c"/>
<line x1="146.15" y1="619.2" x2="146.15" y2="623.3" stroke="#1a1a1a" stroke-width="1.0"/>
<line x1="144.97500000000002" y1="619.2" x2="147.325" y2="619.2" stroke="#1a1a1a" stroke-width="1.0"/>
<line x1="146.15" y1="626.9" x2="146.15" y2="629.5" stroke="#1a1a1a" stroke-width="0.9"/>
<rect x="151.9" y="616.3" width="4.699999999999989" height="10.600000000000023" fill="#a8002c"/>
<line x1="154.25" y1="609.8" x2="154.25" y2="616.3" stroke="#1a1a1a" stroke-width="1.0"/>
<line x1="153.075" y1="609.8" x2="155.425" y2="609.8" stroke="#1a1a1a" stroke-width="1.0"/>
<line x1="154.25" y1="626.9" x2="154.25" y2="629.5" stroke="#1a1a1a" stroke-width="0.9"/>
<text x="28.8" y="591.2" font-size="9" text-anchor="middle" font-weight="normal" font-style="normal" fill="#222" transform="rotate(-90 28.8 591.2)" textLength="82.6" lengthAdjust="spacingAndGlyphs">MYD88 mRNA expression</text>
<text x="38.6" y="593" font-size="8.4" text-anchor="middle" fill="#222" transform="rotate(-90 38.6 593)" textLength="25" lengthAdjust="spacingAndGlyphs">(2<tspan font-size="5.2" dy="-3">-ΔΔct</tspan><tspan dy="3">)</tspan></text>
<line x1="216.8" y1="555.8" x2="216.8" y2="627.4" stroke="#1a1a1a" stroke-width="1.0"/>
<line x1="216.8" y1="626.9" x2="319.5" y2="626.9" stroke="#1a1a1a" stroke-width="1.0"/>
<line x1="213.8" y1="558.4" x2="216.8" y2="558.4" stroke="#1a1a1a" stroke-width="1.0"/>
<text x="212.3" y="561.3" font-size="8.7" text-anchor="end" font-weight="normal" font-style="normal" fill="#222" transform="translate(212.3 0) scale(0.92 1) translate(-212.3 0)">1.5</text>
<line x1="213.8" y1="581.2" x2="216.8" y2="581.2" stroke="#1a1a1a" stroke-width="1.0"/>
<text x="212.3" y="584.1" font-size="8.7" text-anchor="end" font-weight="normal" font-style="normal" fill="#222" transform="translate(212.3 0) scale(0.92 1) translate(-212.3 0)">1.0</text>
<line x1="213.8" y1="604.1" x2="216.8" y2="604.1" stroke="#1a1a1a" stroke-width="1.0"/>
<text x="212.3" y="607.0" font-size="8.7" text-anchor="end" font-weight="normal" font-style="normal" fill="#222" transform="translate(212.3 0) scale(0.92 1) translate(-212.3 0)">0.5</text>
<line x1="213.8" y1="626.9" x2="216.8" y2="626.9" stroke="#1a1a1a" stroke-width="1.0"/>
<text x="212.3" y="629.8" font-size="8.7" text-anchor="end" font-weight="normal" font-style="normal" fill="#222" transform="translate(212.3 0) scale(0.92 1) translate(-212.3 0)">0.0</text>
<rect x="218.5" y="581.2" width="5.300000000000011" height="45.69999999999993" fill="#a8002c"/>
<line x1="221.15" y1="574.5" x2="221.15" y2="581.2" stroke="#1a1a1a" stroke-width="1.0"/>
<line x1="219.825" y1="574.5" x2="222.47500000000002" y2="574.5" stroke="#1a1a1a" stroke-width="1.0"/>
<line x1="221.15" y1="626.9" x2="221.15" y2="629.5" stroke="#1a1a1a" stroke-width="0.9"/>
<rect x="227" y="573.4" width="5.300000000000011" height="53.5" fill="#a8002c"/>
<line x1="229.65" y1="571" x2="229.65" y2="573.4" stroke="#1a1a1a" stroke-width="1.0"/>
<line x1="228.325" y1="571" x2="230.97500000000002" y2="571" stroke="#1a1a1a" stroke-width="1.0"/>
<line x1="229.65" y1="626.9" x2="229.65" y2="629.5" stroke="#1a1a1a" stroke-width="0.9"/>
<rect x="235.5" y="582" width="5.300000000000011" height="44.89999999999998" fill="#a8002c"/>
<line x1="238.15" y1="579" x2="238.15" y2="582" stroke="#1a1a1a" stroke-width="1.0"/>
<line x1="236.825" y1="579" x2="239.47500000000002" y2="579" stroke="#1a1a1a" stroke-width="1.0"/>
<line x1="238.15" y1="626.9" x2="238.15" y2="629.5" stroke="#1a1a1a" stroke-width="0.9"/>
<rect x="243.9" y="580.8" width="5.300000000000011" height="46.10000000000002" fill="#a8002c"/>
<line x1="246.55" y1="580.5" x2="246.55" y2="580.8" stroke="#1a1a1a" stroke-width="1.0"/>
<line x1="245.22500000000002" y1="580.5" x2="247.875" y2="580.5" stroke="#1a1a1a" stroke-width="1.0"/>
<line x1="246.55" y1="626.9" x2="246.55" y2="629.5" stroke="#1a1a1a" stroke-width="0.9"/>
<rect x="252.6" y="605.5" width="5.299999999999983" height="21.399999999999977" fill="#a8002c"/>
<line x1="255.25" y1="605.3" x2="255.25" y2="605.5" stroke="#1a1a1a" stroke-width="1.0"/>
<line x1="253.925" y1="605.3" x2="256.575" y2="605.3" stroke="#1a1a1a" stroke-width="1.0"/>
<line x1="255.25" y1="626.9" x2="255.25" y2="629.5" stroke="#1a1a1a" stroke-width="0.9"/>
<rect x="261.2" y="610.3" width="5.300000000000011" height="16.600000000000023" fill="#a8002c"/>
<line x1="263.85" y1="601.5" x2="263.85" y2="610.3" stroke="#1a1a1a" stroke-width="1.0"/>
<line x1="262.52500000000003" y1="601.5" x2="265.175" y2="601.5" stroke="#1a1a1a" stroke-width="1.0"/>
<line x1="263.84999999999997" y1="626.9" x2="263.84999999999997" y2="629.5" stroke="#1a1a1a" stroke-width="0.9"/>
<rect x="269.7" y="599.9" width="5.300000000000011" height="27.0" fill="#a8002c"/>
<line x1="272.35" y1="597.5" x2="272.35" y2="599.9" stroke="#1a1a1a" stroke-width="1.0"/>
<line x1="271.02500000000003" y1="597.5" x2="273.675" y2="597.5" stroke="#1a1a1a" stroke-width="1.0"/>
<line x1="272.34999999999997" y1="626.9" x2="272.34999999999997" y2="629.5" stroke="#1a1a1a" stroke-width="0.9"/>
<rect x="278.5" y="604.5" width="5.300000000000011" height="22.399999999999977" fill="#a8002c"/>
<line x1="281.15" y1="604.3" x2="281.15" y2="604.5" stroke="#1a1a1a" stroke-width="1.0"/>
<line x1="279.825" y1="604.3" x2="282.47499999999997" y2="604.3" stroke="#1a1a1a" stroke-width="1.0"/>
<line x1="281.15" y1="626.9" x2="281.15" y2="629.5" stroke="#1a1a1a" stroke-width="0.9"/>
<rect x="287" y="602.2" width="5.300000000000011" height="24.699999999999932" fill="#a8002c"/>
<line x1="289.65" y1="602" x2="289.65" y2="602.2" stroke="#1a1a1a" stroke-width="1.0"/>
<line x1="288.325" y1="602" x2="290.97499999999997" y2="602" stroke="#1a1a1a" stroke-width="1.0"/>
<line x1="289.65" y1="626.9" x2="289.65" y2="629.5" stroke="#1a1a1a" stroke-width="0.9"/>
<rect x="295.5" y="611.5" width="5.300000000000011" height="15.399999999999977" fill="#a8002c"/>
<line x1="298.15" y1="611.3" x2="298.15" y2="611.5" stroke="#1a1a1a" stroke-width="1.0"/>
<line x1="296.825" y1="611.3" x2="299.47499999999997" y2="611.3" stroke="#1a1a1a" stroke-width="1.0"/>
<line x1="298.15" y1="626.9" x2="298.15" y2="629.5" stroke="#1a1a1a" stroke-width="0.9"/>
<rect x="303.8" y="625.8" width="5.300000000000011" height="1.1000000000000227" fill="#a8002c"/>
<line x1="306.45000000000005" y1="624.2" x2="306.45000000000005" y2="625.8" stroke="#1a1a1a" stroke-width="1.0"/>
<line x1="305.12500000000006" y1="624.2" x2="307.77500000000003" y2="624.2" stroke="#1a1a1a" stroke-width="1.0"/>
<line x1="306.45" y1="626.9" x2="306.45" y2="629.5" stroke="#1a1a1a" stroke-width="0.9"/>
<rect x="312.6" y="605.7" width="5.300000000000011" height="21.199999999999932" fill="#a8002c"/>
<line x1="315.25" y1="601" x2="315.25" y2="605.7" stroke="#1a1a1a" stroke-width="1.0"/>
<line x1="313.925" y1="601" x2="316.575" y2="601" stroke="#1a1a1a" stroke-width="1.0"/>
<line x1="315.25" y1="626.9" x2="315.25" y2="629.5" stroke="#1a1a1a" stroke-width="0.9"/>
<text x="182.4" y="590.5" font-size="9" text-anchor="middle" font-weight="normal" font-style="normal" fill="#222" transform="rotate(-90 182.4 590.5)" textLength="77.3" lengthAdjust="spacingAndGlyphs">HCK mRNA expression</text>
<text x="193.4" y="590.5" font-size="8.4" text-anchor="middle" fill="#222" transform="rotate(-90 193.4 590.5)" textLength="26.5" lengthAdjust="spacingAndGlyphs">(2<tspan font-size="5.2" dy="-3">-ΔΔct</tspan><tspan dy="3">)</tspan></text>
<line x1="66.5" y1="635.6" x2="107" y2="635.6" stroke="#1a1a1a" stroke-width="1.0"/>
<line x1="66.5" y1="633.6" x2="66.5" y2="637.6" stroke="#1a1a1a" stroke-width="1.0"/>
<line x1="107" y1="633.6" x2="107" y2="637.6" stroke="#1a1a1a" stroke-width="1.0"/>
<line x1="113.8" y1="635.4" x2="154.8" y2="635.4" stroke="#1a1a1a" stroke-width="1.0"/>
<line x1="113.8" y1="633.4" x2="113.8" y2="637.4" stroke="#1a1a1a" stroke-width="1.0"/>
<line x1="154.8" y1="633.4" x2="154.8" y2="637.4" stroke="#1a1a1a" stroke-width="1.0"/>
<text x="86.5" y="647" font-size="8.48" text-anchor="middle" font-weight="normal" font-style="normal" fill="#222" transform="translate(86.5 0) scale(0.92 1) translate(-86.5 0)">Vehicle</text>
<text x="134.6" y="647" font-size="8.48" text-anchor="middle" font-weight="normal" font-style="normal" fill="#222" transform="translate(134.6 0) scale(0.92 1) translate(-134.6 0)">NSC12</text>
<line x1="221.2" y1="635" x2="264.6" y2="635" stroke="#1a1a1a" stroke-width="1.0"/>
<line x1="221.2" y1="633" x2="221.2" y2="637" stroke="#1a1a1a" stroke-width="1.0"/>
<line x1="264.6" y1="633" x2="264.6" y2="637" stroke="#1a1a1a" stroke-width="1.0"/>
<line x1="272" y1="635" x2="315.4" y2="635" stroke="#1a1a1a" stroke-width="1.0"/>
<line x1="272" y1="633" x2="272" y2="637" stroke="#1a1a1a" stroke-width="1.0"/>
<line x1="315.4" y1="633" x2="315.4" y2="637" stroke="#1a1a1a" stroke-width="1.0"/>
<text x="242.7" y="645.2" font-size="8.48" text-anchor="middle" font-weight="normal" font-style="normal" fill="#222" transform="translate(242.7 0) scale(0.92 1) translate(-242.7 0)">Vehicle</text>
<text x="294.2" y="645.2" font-size="8.48" text-anchor="middle" font-weight="normal" font-style="normal" fill="#222" transform="translate(294.2 0) scale(0.92 1) translate(-294.2 0)">NSC12</text>
<line x1="65.8" y1="564.5" x2="106.7" y2="564.5" stroke="#1a1a1a" stroke-width="0.8"/>
<line x1="83" y1="556.3" x2="83" y2="564.5" stroke="#1a1a1a" stroke-width="0.8"/>
<line x1="83" y1="556.3" x2="133.7" y2="556.3" stroke="#1a1a1a" stroke-width="0.8"/>
<line x1="133.7" y1="556.3" x2="133.7" y2="584.6" stroke="#1a1a1a" stroke-width="0.8"/>
<line x1="115" y1="584.6" x2="155.4" y2="584.6" stroke="#1a1a1a" stroke-width="0.8"/>
<text x="107.5" y="553.8" font-size="6" text-anchor="middle" fill="#222"><tspan font-style="italic">P</tspan> 0.001</text>
<line x1="221.2" y1="559.5" x2="264.2" y2="559.5" stroke="#1a1a1a" stroke-width="0.8"/>
<line x1="239.2" y1="551.2" x2="239.2" y2="559.5" stroke="#1a1a1a" stroke-width="0.8"/>
<line x1="239.2" y1="551.2" x2="293.5" y2="551.2" stroke="#1a1a1a" stroke-width="0.8"/>
<line x1="293.5" y1="551.2" x2="293.5" y2="590.5" stroke="#1a1a1a" stroke-width="0.8"/>
<line x1="273.4" y1="590.5" x2="316" y2="590.5" stroke="#1a1a1a" stroke-width="0.8"/>
<text x="266" y="547.5" font-size="6" text-anchor="middle" fill="#222"><tspan font-style="italic">P</tspan> 0.03</text><rect x="0.5" y="0.5" width="519" height="653" fill="none" stroke="#000" stroke-width="1.2"/></svg></body></html>
